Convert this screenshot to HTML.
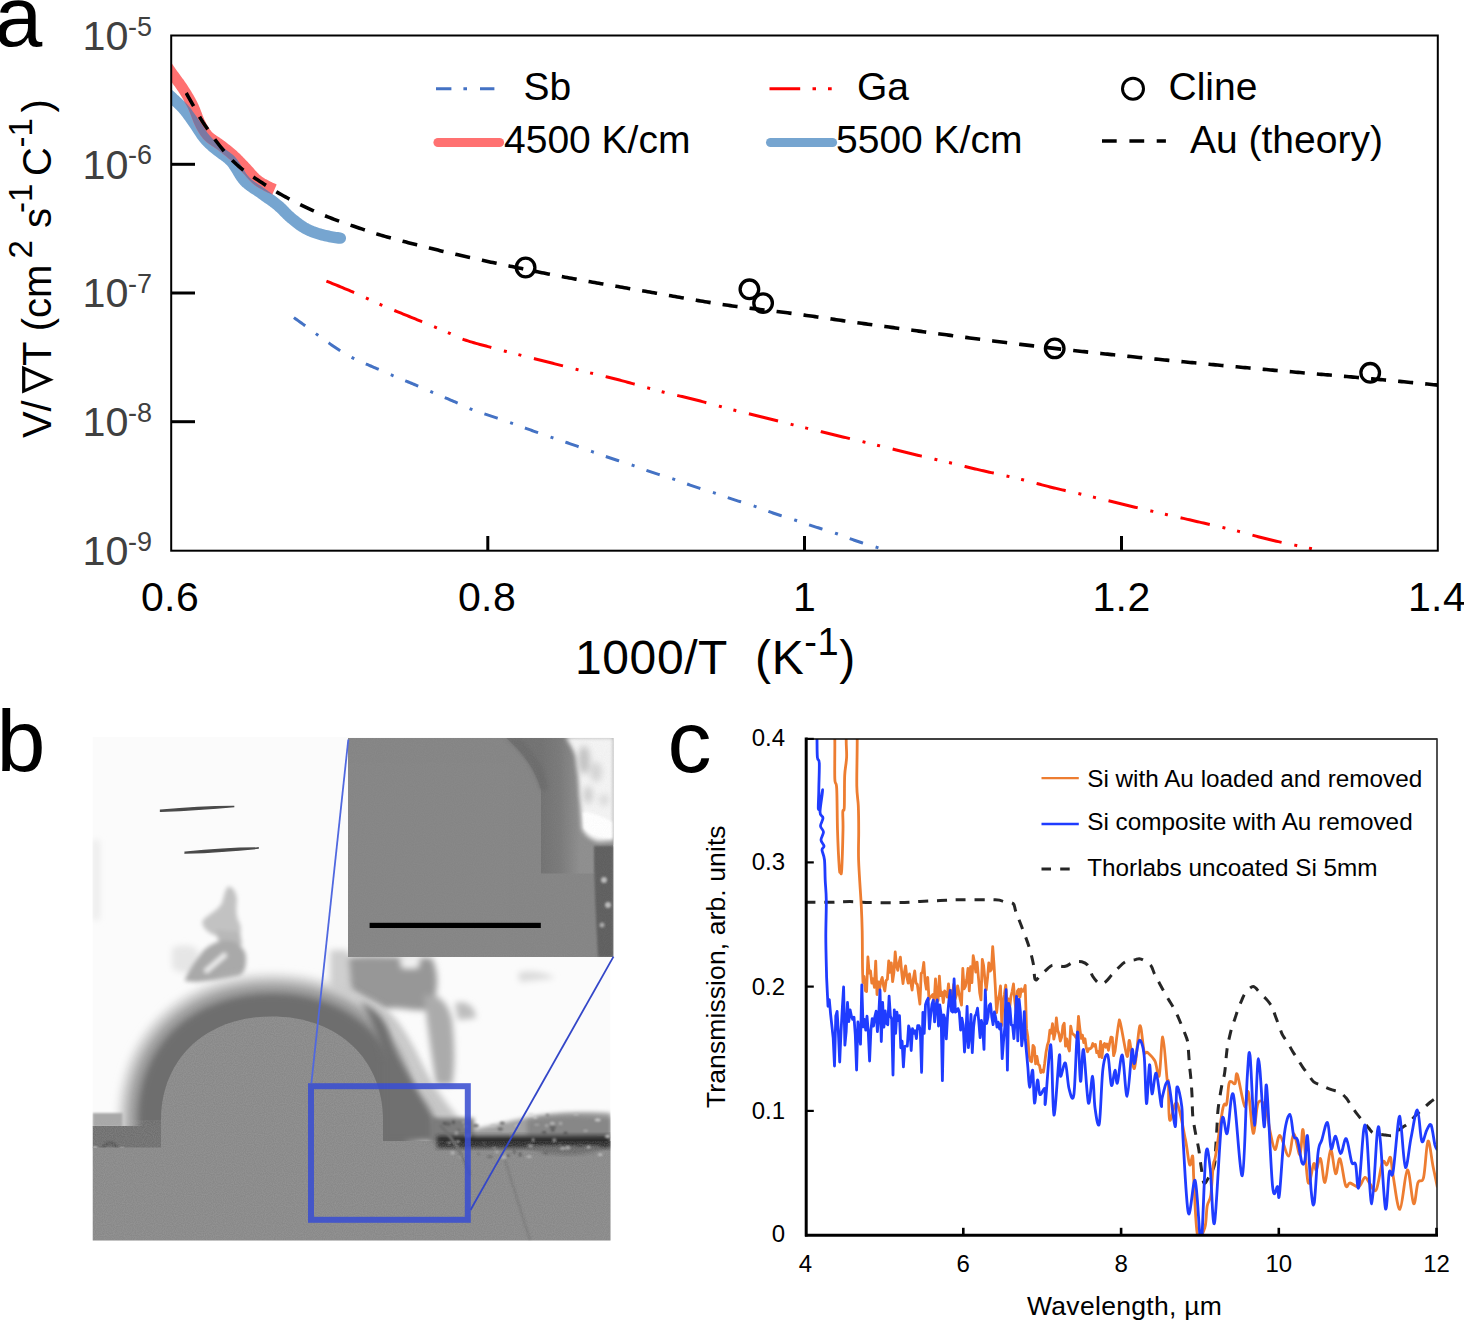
<!DOCTYPE html>
<html><head><meta charset="utf-8">
<style>
html,body{margin:0;padding:0;background:#fff;width:1464px;height:1321px;overflow:hidden}
svg{display:block}
text{font-family:"Liberation Sans",sans-serif}
</style></head>
<body>
<svg width="1464" height="1321" viewBox="0 0 1464 1321">
<defs>
  <mask id="redMask" maskUnits="userSpaceOnUse" x="0" y="0" width="1464" height="700"><rect x="0" y="0" width="1464" height="700" fill="#000"/><path d="M160.00,56.00 L160.85,57.24 L161.71,58.49 L162.56,59.73 L163.42,60.97 L164.28,62.21 L165.14,63.46 L166.00,64.70 L166.86,65.93 L167.72,67.17 L168.58,68.41 L169.45,69.65 L170.31,70.88 L171.18,72.12 L172.05,73.35 L172.93,74.58 L173.81,75.80 L174.70,77.02 L175.60,78.24 L176.50,79.45 L177.40,80.67 L178.29,81.89 L179.18,83.11 L180.05,84.34 L180.92,85.57 L181.77,86.82 L182.60,88.07 L183.41,89.34 L184.22,90.61 L185.02,91.89 L185.81,93.17 L186.60,94.47 L187.38,95.76 L188.15,97.07 L188.91,98.38 L189.65,99.70 L190.38,101.02 L191.10,102.35 L191.80,103.68 L192.48,105.03 L193.14,106.37 L193.77,107.74 L194.37,109.12 L194.94,110.52 L195.49,111.93 L196.03,113.35 L196.56,114.77 L197.09,116.19 L197.63,117.61 L198.18,119.02 L198.75,120.41 L199.35,121.79 L199.98,123.15 L200.65,124.49 L201.35,125.83 L202.07,127.18 L202.83,128.53 L203.61,129.86 L204.42,131.16 L205.27,132.42 L206.15,133.63 L207.07,134.78 L208.03,135.86 L209.07,136.87 L210.18,137.83 L211.35,138.75 L212.57,139.64 L213.83,140.50 L215.11,141.35 L216.41,142.20 L217.70,143.05 L218.98,143.91 L220.22,144.79 L221.43,145.70 L222.62,146.63 L223.81,147.56 L225.00,148.49 L226.19,149.43 L227.37,150.37 L228.54,151.33 L229.71,152.28 L230.87,153.25 L232.01,154.23 L233.14,155.23 L234.26,156.24 L235.36,157.26 L236.44,158.31 L237.51,159.37 L238.57,160.44 L239.63,161.52 L240.68,162.61 L241.72,163.70 L242.77,164.79 L243.82,165.88 L244.87,166.97 L245.91,168.06 L246.94,169.18 L247.96,170.32 L248.96,171.47 L249.97,172.62 L250.98,173.77 L251.99,174.91 L253.01,176.03 L254.06,177.12 L255.12,178.18 L256.21,179.20 L257.33,180.16 L258.49,181.07 L259.71,181.92 L260.98,182.73 L262.29,183.50 L263.62,184.24 L264.97,184.95 L266.30,185.66 L267.64,186.35 L268.99,187.02 L270.35,187.67 L271.72,188.30 L273.11,188.91 L274.50,189.50" fill="none" stroke="#fff" stroke-width="11" stroke-linejoin="round"/></mask>
  <clipPath id="clipTheory"><rect x="185" y="0" width="1300" height="700"/></clipPath>
  <clipPath id="clipA"><rect x="171" y="35.5" width="1267" height="515"/></clipPath>
  <clipPath id="clipC"><rect x="806" y="739" width="631" height="497"/></clipPath>
  <clipPath id="clipB"><rect x="92.5" y="737" width="518" height="503.5"/></clipPath>
  <clipPath id="clipInset"><rect x="348" y="738" width="265.5" height="219"/></clipPath>
  
  <filter id="bl1" x="-20%" y="-20%" width="140%" height="140%"><feGaussianBlur stdDeviation="1"/></filter>
  <filter id="bl2" x="-20%" y="-20%" width="140%" height="140%"><feGaussianBlur stdDeviation="2"/></filter>
  <filter id="bl3" x="-20%" y="-20%" width="140%" height="140%"><feGaussianBlur stdDeviation="3"/></filter>
  <filter id="bl4" x="-30%" y="-30%" width="160%" height="160%"><feGaussianBlur stdDeviation="4"/></filter>
  <filter id="bl7" x="-30%" y="-30%" width="160%" height="160%"><feGaussianBlur stdDeviation="7"/></filter>
  <filter id="bl10" x="-40%" y="-40%" width="180%" height="180%"><feGaussianBlur stdDeviation="10"/></filter>
  <filter id="grain" x="0" y="0" width="100%" height="100%">
    <feTurbulence type="fractalNoise" baseFrequency="0.9" numOctaves="1" seed="3" result="n"/>
    <feColorMatrix in="n" type="matrix" values="0 0 0 0 0.5  0 0 0 0 0.5  0 0 0 0 0.5  0 0 0 0.9 -0.25" result="g"/>
    <feComposite in="g" in2="SourceGraphic" operator="in"/>
  </filter>
  <clipPath id="clipGray"><path d="M161,1150 L161,1120 C161,1060 205,1016.5 272,1016.5 C339,1016.5 383,1060 383,1120 L383,1141 L611,1141 L611,1241 L92.5,1241 L92.5,1120 L161,1120 Z"/></clipPath>
  <linearGradient id="insetRing" x1="541" y1="0" x2="580" y2="0" gradientUnits="userSpaceOnUse">
    <stop offset="0" stop-color="#727272"/>
    <stop offset="0.5" stop-color="#7a7a7a"/>
    <stop offset="1" stop-color="#8e8e8e"/>
  </linearGradient>
  <linearGradient id="rightFoot" x1="383" y1="1120" x2="470" y2="1060" gradientUnits="userSpaceOnUse">
    <stop offset="0" stop-color="#767676"/>
    <stop offset="0.55" stop-color="#8a8a8a"/>
    <stop offset="1" stop-color="#f5f5f5"/>
  </linearGradient>

</defs>

<!-- ================= PANEL A ================= -->
<text x="-5.5" y="46.3" font-size="86">a</text>

<!-- curves -->
<g clip-path="url(#clipA)" fill="none">
  <path d="M160.00,87.00 L161.15,87.99 L162.30,88.98 L163.44,89.97 L164.58,90.97 L165.72,91.98 L166.85,92.99 L167.97,94.00 L169.10,95.02 L170.22,96.04 L171.33,97.07 L172.44,98.09 L173.56,99.12 L174.69,100.14 L175.81,101.17 L176.94,102.20 L178.05,103.24 L179.15,104.29 L180.23,105.35 L181.29,106.43 L182.32,107.52 L183.32,108.64 L184.30,109.78 L185.25,110.95 L186.18,112.13 L187.10,113.34 L188.00,114.56 L188.90,115.79 L189.78,117.03 L190.65,118.27 L191.52,119.52 L192.39,120.77 L193.26,122.02 L194.13,123.27 L195.00,124.51 L195.87,125.75 L196.72,127.01 L197.56,128.29 L198.38,129.57 L199.21,130.85 L200.04,132.13 L200.87,133.40 L201.72,134.65 L202.59,135.89 L203.49,137.10 L204.41,138.29 L205.37,139.44 L206.38,140.56 L207.42,141.66 L208.50,142.74 L209.59,143.80 L210.71,144.83 L211.83,145.85 L212.97,146.84 L214.13,147.81 L215.32,148.75 L216.52,149.69 L217.72,150.61 L218.92,151.54 L220.11,152.48 L221.34,153.39 L222.58,154.29 L223.83,155.19 L225.08,156.08 L226.31,156.99 L227.51,157.92 L228.66,158.88 L229.76,159.87 L230.80,160.92 L231.78,162.02 L232.71,163.19 L233.61,164.40 L234.47,165.66 L235.31,166.94 L236.13,168.26 L236.93,169.58 L237.73,170.92 L238.53,172.26 L239.33,173.58 L240.15,174.90 L240.98,176.18 L241.84,177.43 L242.73,178.65 L243.66,179.81 L244.63,180.91 L245.66,181.95 L246.73,182.95 L247.86,183.91 L249.03,184.84 L250.24,185.75 L251.47,186.63 L252.73,187.50 L254.01,188.36 L255.29,189.21 L256.58,190.06 L257.87,190.91 L259.14,191.77 L260.40,192.64 L261.64,193.53 L262.86,194.42 L264.10,195.30 L265.34,196.17 L266.59,197.05 L267.83,197.92 L269.08,198.79 L270.32,199.67 L271.55,200.55 L272.78,201.44 L273.99,202.34 L275.20,203.26 L276.39,204.19 L277.56,205.13 L278.71,206.11 L279.83,207.12 L280.94,208.16 L282.02,209.22 L283.09,210.30 L284.16,211.39 L285.23,212.47 L286.30,213.56 L287.37,214.63 L288.47,215.68 L289.58,216.70 L290.72,217.69 L291.88,218.64 L293.06,219.60 L294.24,220.56 L295.44,221.52 L296.65,222.48 L297.87,223.41 L299.10,224.33 L300.35,225.23 L301.60,226.09 L302.88,226.92 L304.16,227.71 L305.46,228.45 L306.78,229.15 L308.11,229.79 L309.46,230.40 L310.85,231.00 L312.25,231.58 L313.67,232.13 L315.10,232.66 L316.55,233.17 L318.01,233.65 L319.47,234.10 L320.94,234.52 L322.41,234.91 L323.87,235.27 L325.34,235.61 L326.81,235.93 L328.28,236.24 L329.76,236.54 L331.25,236.83 L332.75,237.09 L334.25,237.34 L335.75,237.57 L337.26,237.77 L338.78,237.95 L340.30,238.10" stroke="#76a5d0" stroke-width="11.5" stroke-linejoin="round" stroke-linecap="round"/>
  <path d="M160.00,56.00 L160.85,57.24 L161.71,58.49 L162.56,59.73 L163.42,60.97 L164.28,62.21 L165.14,63.46 L166.00,64.70 L166.86,65.93 L167.72,67.17 L168.58,68.41 L169.45,69.65 L170.31,70.88 L171.18,72.12 L172.05,73.35 L172.93,74.58 L173.81,75.80 L174.70,77.02 L175.60,78.24 L176.50,79.45 L177.40,80.67 L178.29,81.89 L179.18,83.11 L180.05,84.34 L180.92,85.57 L181.77,86.82 L182.60,88.07 L183.41,89.34 L184.22,90.61 L185.02,91.89 L185.81,93.17 L186.60,94.47 L187.38,95.76 L188.15,97.07 L188.91,98.38 L189.65,99.70 L190.38,101.02 L191.10,102.35 L191.80,103.68 L192.48,105.03 L193.14,106.37 L193.77,107.74 L194.37,109.12 L194.94,110.52 L195.49,111.93 L196.03,113.35 L196.56,114.77 L197.09,116.19 L197.63,117.61 L198.18,119.02 L198.75,120.41 L199.35,121.79 L199.98,123.15 L200.65,124.49 L201.35,125.83 L202.07,127.18 L202.83,128.53 L203.61,129.86 L204.42,131.16 L205.27,132.42 L206.15,133.63 L207.07,134.78 L208.03,135.86 L209.07,136.87 L210.18,137.83 L211.35,138.75 L212.57,139.64 L213.83,140.50 L215.11,141.35 L216.41,142.20 L217.70,143.05 L218.98,143.91 L220.22,144.79 L221.43,145.70 L222.62,146.63 L223.81,147.56 L225.00,148.49 L226.19,149.43 L227.37,150.37 L228.54,151.33 L229.71,152.28 L230.87,153.25 L232.01,154.23 L233.14,155.23 L234.26,156.24 L235.36,157.26 L236.44,158.31 L237.51,159.37 L238.57,160.44 L239.63,161.52 L240.68,162.61 L241.72,163.70 L242.77,164.79 L243.82,165.88 L244.87,166.97 L245.91,168.06 L246.94,169.18 L247.96,170.32 L248.96,171.47 L249.97,172.62 L250.98,173.77 L251.99,174.91 L253.01,176.03 L254.06,177.12 L255.12,178.18 L256.21,179.20 L257.33,180.16 L258.49,181.07 L259.71,181.92 L260.98,182.73 L262.29,183.50 L263.62,184.24 L264.97,184.95 L266.30,185.66 L267.64,186.35 L268.99,187.02 L270.35,187.67 L271.72,188.30 L273.11,188.91 L274.50,189.50" stroke="#ff7171" stroke-width="11" stroke-linejoin="round"/>
  <path d="M160.00,87.00 L161.15,87.99 L162.30,88.98 L163.44,89.97 L164.58,90.97 L165.72,91.98 L166.85,92.99 L167.97,94.00 L169.10,95.02 L170.22,96.04 L171.33,97.07 L172.44,98.09 L173.56,99.12 L174.69,100.14 L175.81,101.17 L176.94,102.20 L178.05,103.24 L179.15,104.29 L180.23,105.35 L181.29,106.43 L182.32,107.52 L183.32,108.64 L184.30,109.78 L185.25,110.95 L186.18,112.13 L187.10,113.34 L188.00,114.56 L188.90,115.79 L189.78,117.03 L190.65,118.27 L191.52,119.52 L192.39,120.77 L193.26,122.02 L194.13,123.27 L195.00,124.51 L195.87,125.75 L196.72,127.01 L197.56,128.29 L198.38,129.57 L199.21,130.85 L200.04,132.13 L200.87,133.40 L201.72,134.65 L202.59,135.89 L203.49,137.10 L204.41,138.29 L205.37,139.44 L206.38,140.56 L207.42,141.66 L208.50,142.74 L209.59,143.80 L210.71,144.83 L211.83,145.85 L212.97,146.84 L214.13,147.81 L215.32,148.75 L216.52,149.69 L217.72,150.61 L218.92,151.54 L220.11,152.48 L221.34,153.39 L222.58,154.29 L223.83,155.19 L225.08,156.08 L226.31,156.99 L227.51,157.92 L228.66,158.88 L229.76,159.87 L230.80,160.92 L231.78,162.02 L232.71,163.19 L233.61,164.40 L234.47,165.66 L235.31,166.94 L236.13,168.26 L236.93,169.58 L237.73,170.92 L238.53,172.26 L239.33,173.58 L240.15,174.90 L240.98,176.18 L241.84,177.43 L242.73,178.65 L243.66,179.81 L244.63,180.91 L245.66,181.95 L246.73,182.95 L247.86,183.91 L249.03,184.84 L250.24,185.75 L251.47,186.63 L252.73,187.50 L254.01,188.36 L255.29,189.21 L256.58,190.06 L257.87,190.91 L259.14,191.77 L260.40,192.64 L261.64,193.53 L262.86,194.42 L264.10,195.30 L265.34,196.17 L266.59,197.05 L267.83,197.92 L269.08,198.79 L270.32,199.67 L271.55,200.55 L272.78,201.44 L273.99,202.34 L275.20,203.26 L276.39,204.19 L277.56,205.13 L278.71,206.11 L279.83,207.12 L280.94,208.16 L282.02,209.22 L283.09,210.30 L284.16,211.39 L285.23,212.47 L286.30,213.56 L287.37,214.63 L288.47,215.68 L289.58,216.70 L290.72,217.69 L291.88,218.64 L293.06,219.60 L294.24,220.56 L295.44,221.52 L296.65,222.48 L297.87,223.41 L299.10,224.33 L300.35,225.23 L301.60,226.09 L302.88,226.92 L304.16,227.71 L305.46,228.45 L306.78,229.15 L308.11,229.79 L309.46,230.40 L310.85,231.00 L312.25,231.58 L313.67,232.13 L315.10,232.66 L316.55,233.17 L318.01,233.65 L319.47,234.10 L320.94,234.52 L322.41,234.91 L323.87,235.27 L325.34,235.61 L326.81,235.93 L328.28,236.24 L329.76,236.54 L331.25,236.83 L332.75,237.09 L334.25,237.34 L335.75,237.57 L337.26,237.77 L338.78,237.95 L340.30,238.10" stroke="#7b78a2" stroke-width="11.5" stroke-linejoin="round" stroke-linecap="round" mask="url(#redMask)"/>
  <path d="M171.00,66.00 L173.12,69.79 L175.24,73.57 L177.36,77.34 L179.47,81.10 L181.59,84.86 L183.71,88.60 L185.83,92.34 L187.95,96.07 L190.07,99.79 L192.19,103.58 L194.30,107.44 L196.42,111.29 L198.54,115.06 L200.66,118.68 L202.78,122.06 L204.90,125.21 L207.02,128.31 L209.13,131.37 L211.25,134.37 L213.37,137.31 L215.49,140.20 L217.61,143.01 L219.73,145.76 L221.84,148.42 L223.96,151.01 L226.08,153.51 L228.20,155.91 L230.32,158.22 L232.44,160.42 L234.56,162.52 L236.67,164.51 L238.79,166.38 L240.91,168.15 L243.03,169.82 L245.15,171.43 L247.27,172.96 L249.39,174.44 L251.50,175.88 L253.62,177.29 L255.74,178.68 L257.86,180.07 L259.98,181.46 L262.10,182.86 L264.22,184.24 L266.33,185.60 L268.45,186.94 L270.57,188.26 L272.69,189.56 L274.81,190.84 L276.93,192.09 L279.05,193.32 L281.16,194.53 L283.28,195.71 L285.40,196.88 L287.52,198.03 L289.64,199.16 L291.76,200.27 L293.87,201.37 L295.99,202.45 L298.11,203.51 L300.23,204.56 L302.35,205.59 L304.47,206.61 L306.59,207.61 L308.70,208.59 L310.82,209.56 L312.94,210.52 L315.06,211.46 L317.18,212.39 L319.30,213.31 L321.42,214.21 L323.53,215.10 L325.65,215.97 L327.77,216.83 L329.89,217.68 L332.01,218.50 L334.13,219.31 L336.25,220.11 L338.36,220.89 L340.48,221.65 L342.60,222.40 L344.72,223.15 L346.84,223.88 L348.96,224.61 L351.08,225.33 L353.19,226.04 L355.31,226.76 L357.43,227.48 L359.55,228.20 L361.67,228.92 L363.79,229.64 L365.90,230.36 L368.02,231.07 L370.14,231.78 L372.26,232.48 L374.38,233.17 L376.50,233.85 L378.62,234.50 L380.73,235.14 L382.85,235.76 L384.97,236.36 L387.09,236.95 L389.21,237.54 L391.33,238.12 L393.45,238.70 L395.56,239.28 L397.68,239.85 L399.80,240.42 L401.92,240.99 L404.04,241.55 L406.16,242.11 L408.28,242.67 L410.39,243.22 L412.51,243.77 L414.63,244.32 L416.75,244.86 L418.87,245.40 L420.99,245.94 L423.11,246.47 L425.22,247.00 L427.34,247.53 L429.46,248.05 L431.58,248.57 L433.70,249.09 L435.82,249.61 L437.93,250.12 L440.05,250.63 L442.17,251.14 L444.29,251.64 L446.41,252.14 L448.53,252.64 L450.65,253.14 L452.76,253.63 L454.88,254.12 L457.00,254.61 L459.12,255.10 L461.24,255.58 L463.36,256.06 L465.48,256.54 L467.59,257.02 L469.71,257.50 L471.83,257.97 L473.95,258.44 L476.07,258.91 L478.19,259.38 L480.31,259.84 L482.42,260.30 L484.54,260.76 L486.66,261.22 L488.78,261.68 L490.90,262.14 L493.02,262.59 L495.14,263.04 L497.25,263.49 L499.37,263.94 L501.49,264.39 L503.61,264.84 L505.73,265.28 L507.85,265.72 L509.96,266.16 L512.08,266.60 L514.20,267.04 L516.32,267.48 L518.44,267.92 L520.56,268.35 L522.68,268.79 L524.79,269.22 L526.91,269.65 L529.03,270.08 L531.15,270.51 L533.27,270.94 L535.39,271.37 L537.51,271.80 L539.62,272.22 L541.74,272.65 L543.86,273.07 L545.98,273.49 L548.10,273.91 L550.22,274.33 L552.34,274.74 L554.45,275.15 L556.57,275.56 L558.69,275.97 L560.81,276.37 L562.93,276.77 L565.05,277.17 L567.17,277.57 L569.28,277.96 L571.40,278.35 L573.52,278.74 L575.64,279.13 L577.76,279.52 L579.88,279.90 L581.99,280.28 L584.11,280.66 L586.23,281.04 L588.35,281.42 L590.47,281.80 L592.59,282.17 L594.71,282.54 L596.82,282.92 L598.94,283.29 L601.06,283.66 L603.18,284.03 L605.30,284.40 L607.42,284.76 L609.54,285.13 L611.65,285.50 L613.77,285.86 L615.89,286.23 L618.01,286.59 L620.13,286.96 L622.25,287.32 L624.37,287.68 L626.48,288.05 L628.60,288.41 L630.72,288.78 L632.84,289.14 L634.96,289.50 L637.08,289.87 L639.20,290.23 L641.31,290.60 L643.43,290.96 L645.55,291.33 L647.67,291.70 L649.79,292.06 L651.91,292.43 L654.03,292.80 L656.14,293.17 L658.26,293.55 L660.38,293.92 L662.50,294.30 L664.62,294.67 L666.74,295.05 L668.85,295.42 L670.97,295.80 L673.09,296.18 L675.21,296.55 L677.33,296.93 L679.45,297.31 L681.57,297.68 L683.68,298.05 L685.80,298.43 L687.92,298.80 L690.04,299.17 L692.16,299.54 L694.28,299.90 L696.40,300.26 L698.51,300.63 L700.63,300.99 L702.75,301.34 L704.87,301.69 L706.99,302.05 L709.11,302.39 L711.23,302.74 L713.34,303.08 L715.46,303.41 L717.58,303.74 L719.70,304.07 L721.82,304.40 L723.94,304.71 L726.06,305.03 L728.17,305.34 L730.29,305.64 L732.41,305.94 L734.53,306.23 L736.65,306.52 L738.77,306.80 L740.88,307.07 L743.00,307.35 L745.12,307.61 L747.24,307.88 L749.36,308.14 L751.48,308.40 L753.60,308.65 L755.71,308.91 L757.83,309.16 L759.95,309.42 L762.07,309.67 L764.19,309.92 L766.31,310.17 L768.43,310.43 L770.54,310.68 L772.66,310.94 L774.78,311.20 L776.90,311.46 L779.02,311.73 L781.14,312.00 L783.26,312.27 L785.37,312.55 L787.49,312.83 L789.61,313.11 L791.73,313.40 L793.85,313.69 L795.97,313.98 L798.09,314.27 L800.20,314.56 L802.32,314.85 L804.44,315.15 L806.56,315.45 L808.68,315.74 L810.80,316.04 L812.91,316.34 L815.03,316.65 L817.15,316.95 L819.27,317.25 L821.39,317.55 L823.51,317.86 L825.63,318.16 L827.74,318.47 L829.86,318.77 L831.98,319.08 L834.10,319.38 L836.22,319.69 L838.34,319.99 L840.46,320.30 L842.57,320.60 L844.69,320.91 L846.81,321.21 L848.93,321.51 L851.05,321.81 L853.17,322.11 L855.29,322.41 L857.40,322.71 L859.52,323.01 L861.64,323.30 L863.76,323.60 L865.88,323.89 L868.00,324.18 L870.12,324.47 L872.23,324.76 L874.35,325.05 L876.47,325.33 L878.59,325.62 L880.71,325.91 L882.83,326.20 L884.94,326.48 L887.06,326.77 L889.18,327.06 L891.30,327.35 L893.42,327.64 L895.54,327.93 L897.66,328.21 L899.77,328.50 L901.89,328.79 L904.01,329.08 L906.13,329.37 L908.25,329.66 L910.37,329.94 L912.49,330.23 L914.60,330.52 L916.72,330.81 L918.84,331.10 L920.96,331.38 L923.08,331.67 L925.20,331.96 L927.32,332.25 L929.43,332.53 L931.55,332.82 L933.67,333.10 L935.79,333.39 L937.91,333.68 L940.03,333.96 L942.15,334.25 L944.26,334.53 L946.38,334.81 L948.50,335.10 L950.62,335.38 L952.74,335.66 L954.86,335.95 L956.97,336.23 L959.09,336.51 L961.21,336.79 L963.33,337.07 L965.45,337.35 L967.57,337.63 L969.69,337.91 L971.80,338.19 L973.92,338.46 L976.04,338.74 L978.16,339.02 L980.28,339.29 L982.40,339.57 L984.52,339.84 L986.63,340.11 L988.75,340.39 L990.87,340.66 L992.99,340.93 L995.11,341.20 L997.23,341.47 L999.35,341.74 L1001.46,342.00 L1003.58,342.27 L1005.70,342.54 L1007.82,342.80 L1009.94,343.07 L1012.06,343.33 L1014.18,343.59 L1016.29,343.85 L1018.41,344.11 L1020.53,344.37 L1022.65,344.63 L1024.77,344.89 L1026.89,345.14 L1029.01,345.40 L1031.12,345.65 L1033.24,345.91 L1035.36,346.16 L1037.48,346.41 L1039.60,346.66 L1041.72,346.91 L1043.83,347.15 L1045.95,347.40 L1048.07,347.64 L1050.19,347.89 L1052.31,348.13 L1054.43,348.37 L1056.55,348.61 L1058.66,348.85 L1060.78,349.09 L1062.90,349.32 L1065.02,349.56 L1067.14,349.80 L1069.26,350.03 L1071.38,350.26 L1073.49,350.50 L1075.61,350.73 L1077.73,350.96 L1079.85,351.19 L1081.97,351.43 L1084.09,351.66 L1086.21,351.89 L1088.32,352.11 L1090.44,352.34 L1092.56,352.57 L1094.68,352.80 L1096.80,353.02 L1098.92,353.25 L1101.04,353.47 L1103.15,353.70 L1105.27,353.92 L1107.39,354.14 L1109.51,354.37 L1111.63,354.59 L1113.75,354.81 L1115.86,355.03 L1117.98,355.25 L1120.10,355.47 L1122.22,355.69 L1124.34,355.91 L1126.46,356.12 L1128.58,356.34 L1130.69,356.56 L1132.81,356.77 L1134.93,356.99 L1137.05,357.20 L1139.17,357.42 L1141.29,357.63 L1143.41,357.85 L1145.52,358.06 L1147.64,358.27 L1149.76,358.48 L1151.88,358.70 L1154.00,358.91 L1156.12,359.12 L1158.24,359.33 L1160.35,359.54 L1162.47,359.75 L1164.59,359.95 L1166.71,360.16 L1168.83,360.37 L1170.95,360.58 L1173.07,360.78 L1175.18,360.99 L1177.30,361.20 L1179.42,361.40 L1181.54,361.61 L1183.66,361.81 L1185.78,362.02 L1187.89,362.22 L1190.01,362.43 L1192.13,362.63 L1194.25,362.83 L1196.37,363.04 L1198.49,363.24 L1200.61,363.44 L1202.72,363.64 L1204.84,363.84 L1206.96,364.04 L1209.08,364.24 L1211.20,364.44 L1213.32,364.64 L1215.44,364.84 L1217.55,365.04 L1219.67,365.24 L1221.79,365.44 L1223.91,365.64 L1226.03,365.84 L1228.15,366.04 L1230.27,366.24 L1232.38,366.43 L1234.50,366.63 L1236.62,366.83 L1238.74,367.02 L1240.86,367.22 L1242.98,367.42 L1245.10,367.61 L1247.21,367.81 L1249.33,368.01 L1251.45,368.20 L1253.57,368.40 L1255.69,368.59 L1257.81,368.79 L1259.92,368.98 L1262.04,369.18 L1264.16,369.37 L1266.28,369.57 L1268.40,369.76 L1270.52,369.96 L1272.64,370.15 L1274.75,370.34 L1276.87,370.53 L1278.99,370.72 L1281.11,370.91 L1283.23,371.10 L1285.35,371.28 L1287.47,371.47 L1289.58,371.65 L1291.70,371.83 L1293.82,372.02 L1295.94,372.20 L1298.06,372.38 L1300.18,372.56 L1302.30,372.74 L1304.41,372.92 L1306.53,373.10 L1308.65,373.28 L1310.77,373.45 L1312.89,373.63 L1315.01,373.81 L1317.13,373.99 L1319.24,374.17 L1321.36,374.35 L1323.48,374.52 L1325.60,374.70 L1327.72,374.88 L1329.84,375.06 L1331.95,375.24 L1334.07,375.43 L1336.19,375.61 L1338.31,375.79 L1340.43,375.98 L1342.55,376.16 L1344.67,376.35 L1346.78,376.53 L1348.90,376.72 L1351.02,376.91 L1353.14,377.10 L1355.26,377.29 L1357.38,377.49 L1359.50,377.68 L1361.61,377.87 L1363.73,378.06 L1365.85,378.26 L1367.97,378.45 L1370.09,378.65 L1372.21,378.84 L1374.33,379.04 L1376.44,379.23 L1378.56,379.43 L1380.68,379.62 L1382.80,379.82 L1384.92,380.02 L1387.04,380.22 L1389.16,380.42 L1391.27,380.61 L1393.39,380.81 L1395.51,381.01 L1397.63,381.21 L1399.75,381.41 L1401.87,381.61 L1403.98,381.82 L1406.10,382.02 L1408.22,382.22 L1410.34,382.42 L1412.46,382.62 L1414.58,382.83 L1416.70,383.03 L1418.81,383.24 L1420.93,383.44 L1423.05,383.65 L1425.17,383.85 L1427.29,384.06 L1429.41,384.26 L1431.53,384.47 L1433.64,384.68 L1435.76,384.88 L1437.88,385.09 L1440.00,385.30" stroke="#000" stroke-width="3.6" stroke-dasharray="15.1 12.1" stroke-dashoffset="-31" clip-path="url(#clipTheory)"/>
  <path d="M326.40,281.10 L328.42,281.90 L330.44,282.71 L332.46,283.52 L334.48,284.34 L336.51,285.17 L338.53,286.00 L340.55,286.83 L342.57,287.68 L344.59,288.52 L346.61,289.38 L348.63,290.24 L350.65,291.10 L352.68,291.97 L354.70,292.85 L356.72,293.74 L358.74,294.64 L360.76,295.56 L362.78,296.49 L364.80,297.42 L366.82,298.36 L368.85,299.30 L370.87,300.23 L372.89,301.16 L374.91,302.09 L376.93,303.00 L378.95,303.90 L380.97,304.79 L382.99,305.66 L385.02,306.53 L387.04,307.38 L389.06,308.23 L391.08,309.08 L393.10,309.91 L395.12,310.75 L397.14,311.58 L399.16,312.40 L401.19,313.23 L403.21,314.05 L405.23,314.87 L407.25,315.69 L409.27,316.51 L411.29,317.33 L413.31,318.15 L415.33,318.98 L417.36,319.81 L419.38,320.64 L421.40,321.47 L423.42,322.31 L425.44,323.15 L427.46,323.98 L429.48,324.81 L431.50,325.64 L433.53,326.47 L435.55,327.31 L437.57,328.14 L439.59,328.98 L441.61,329.83 L443.63,330.68 L445.65,331.54 L447.67,332.41 L449.70,333.29 L451.72,334.20 L453.74,335.16 L455.76,336.13 L457.78,337.09 L459.80,338.00 L461.82,338.83 L463.84,339.57 L465.87,340.27 L467.89,340.94 L469.91,341.57 L471.93,342.19 L473.95,342.78 L475.97,343.35 L477.99,343.91 L480.01,344.46 L482.04,345.00 L484.06,345.54 L486.08,346.07 L488.10,346.62 L490.12,347.17 L492.14,347.72 L494.16,348.28 L496.18,348.82 L498.21,349.36 L500.23,349.90 L502.25,350.43 L504.27,350.96 L506.29,351.49 L508.31,352.01 L510.33,352.54 L512.35,353.06 L514.38,353.58 L516.40,354.10 L518.42,354.62 L520.44,355.14 L522.46,355.66 L524.48,356.18 L526.50,356.69 L528.52,357.21 L530.55,357.72 L532.57,358.23 L534.59,358.74 L536.61,359.25 L538.63,359.76 L540.65,360.27 L542.67,360.78 L544.69,361.29 L546.72,361.79 L548.74,362.30 L550.76,362.81 L552.78,363.32 L554.80,363.83 L556.82,364.34 L558.84,364.85 L560.86,365.36 L562.89,365.87 L564.91,366.39 L566.93,366.91 L568.95,367.42 L570.97,367.94 L572.99,368.46 L575.01,368.98 L577.03,369.50 L579.06,370.02 L581.08,370.53 L583.10,371.05 L585.12,371.56 L587.14,372.08 L589.16,372.59 L591.18,373.10 L593.20,373.60 L595.23,374.10 L597.25,374.59 L599.27,375.09 L601.29,375.58 L603.31,376.07 L605.33,376.56 L607.35,377.05 L609.37,377.54 L611.40,378.03 L613.42,378.53 L615.44,379.04 L617.46,379.55 L619.48,380.07 L621.50,380.59 L623.52,381.13 L625.54,381.67 L627.57,382.22 L629.59,382.78 L631.61,383.34 L633.63,383.91 L635.65,384.48 L637.67,385.05 L639.69,385.63 L641.71,386.20 L643.74,386.78 L645.76,387.35 L647.78,387.92 L649.80,388.49 L651.82,389.05 L653.84,389.60 L655.86,390.15 L657.88,390.70 L659.91,391.23 L661.93,391.75 L663.95,392.26 L665.97,392.77 L667.99,393.26 L670.01,393.74 L672.03,394.21 L674.05,394.69 L676.07,395.15 L678.10,395.62 L680.12,396.09 L682.14,396.56 L684.16,397.03 L686.18,397.51 L688.20,397.99 L690.22,398.48 L692.24,398.99 L694.27,399.50 L696.29,400.02 L698.31,400.54 L700.33,401.07 L702.35,401.61 L704.37,402.15 L706.39,402.69 L708.41,403.24 L710.44,403.79 L712.46,404.34 L714.48,404.89 L716.50,405.44 L718.52,405.99 L720.54,406.53 L722.56,407.08 L724.58,407.62 L726.61,408.16 L728.63,408.70 L730.65,409.23 L732.67,409.76 L734.69,410.27 L736.71,410.79 L738.73,411.30 L740.75,411.80 L742.78,412.31 L744.80,412.81 L746.82,413.30 L748.84,413.80 L750.86,414.29 L752.88,414.79 L754.90,415.28 L756.92,415.78 L758.95,416.28 L760.97,416.77 L762.99,417.27 L765.01,417.78 L767.03,418.28 L769.05,418.78 L771.07,419.29 L773.09,419.79 L775.12,420.30 L777.14,420.80 L779.16,421.31 L781.18,421.82 L783.20,422.32 L785.22,422.83 L787.24,423.34 L789.26,423.84 L791.29,424.35 L793.31,424.85 L795.33,425.36 L797.35,425.86 L799.37,426.36 L801.39,426.86 L803.41,427.36 L805.43,427.86 L807.46,428.36 L809.48,428.86 L811.50,429.35 L813.52,429.84 L815.54,430.34 L817.56,430.83 L819.58,431.32 L821.60,431.81 L823.63,432.30 L825.65,432.79 L827.67,433.28 L829.69,433.76 L831.71,434.25 L833.73,434.74 L835.75,435.23 L837.77,435.72 L839.80,436.21 L841.82,436.69 L843.84,437.18 L845.86,437.66 L847.88,438.14 L849.90,438.63 L851.92,439.11 L853.94,439.59 L855.97,440.08 L857.99,440.56 L860.01,441.05 L862.03,441.53 L864.05,442.02 L866.07,442.50 L868.09,442.99 L870.11,443.48 L872.14,443.97 L874.16,444.46 L876.18,444.96 L878.20,445.45 L880.22,445.95 L882.24,446.45 L884.26,446.96 L886.28,447.46 L888.31,447.97 L890.33,448.48 L892.35,449.00 L894.37,449.51 L896.39,450.01 L898.41,450.52 L900.43,451.03 L902.45,451.53 L904.48,452.03 L906.50,452.52 L908.52,453.01 L910.54,453.50 L912.56,453.98 L914.58,454.46 L916.60,454.94 L918.62,455.42 L920.65,455.90 L922.67,456.37 L924.69,456.84 L926.71,457.32 L928.73,457.79 L930.75,458.26 L932.77,458.73 L934.79,459.21 L936.82,459.68 L938.84,460.15 L940.86,460.63 L942.88,461.10 L944.90,461.58 L946.92,462.06 L948.94,462.54 L950.96,463.03 L952.99,463.51 L955.01,464.01 L957.03,464.50 L959.05,464.99 L961.07,465.49 L963.09,465.98 L965.11,466.47 L967.13,466.97 L969.16,467.46 L971.18,467.95 L973.20,468.44 L975.22,468.92 L977.24,469.40 L979.26,469.87 L981.28,470.34 L983.30,470.80 L985.33,471.26 L987.35,471.72 L989.37,472.17 L991.39,472.62 L993.41,473.07 L995.43,473.51 L997.45,473.96 L999.47,474.40 L1001.49,474.85 L1003.52,475.30 L1005.54,475.75 L1007.56,476.20 L1009.58,476.66 L1011.60,477.12 L1013.62,477.58 L1015.64,478.05 L1017.66,478.53 L1019.69,479.01 L1021.71,479.50 L1023.73,480.00 L1025.75,480.52 L1027.77,481.04 L1029.79,481.57 L1031.81,482.11 L1033.83,482.65 L1035.86,483.20 L1037.88,483.74 L1039.90,484.29 L1041.92,484.83 L1043.94,485.37 L1045.96,485.90 L1047.98,486.42 L1050.00,486.93 L1052.03,487.43 L1054.05,487.92 L1056.07,488.41 L1058.09,488.89 L1060.11,489.37 L1062.13,489.84 L1064.15,490.31 L1066.17,490.78 L1068.20,491.25 L1070.22,491.71 L1072.24,492.18 L1074.26,492.64 L1076.28,493.10 L1078.30,493.56 L1080.32,494.03 L1082.34,494.49 L1084.37,494.96 L1086.39,495.43 L1088.41,495.90 L1090.43,496.37 L1092.45,496.85 L1094.47,497.34 L1096.49,497.83 L1098.51,498.32 L1100.54,498.81 L1102.56,499.31 L1104.58,499.81 L1106.60,500.31 L1108.62,500.82 L1110.64,501.32 L1112.66,501.82 L1114.68,502.32 L1116.71,502.82 L1118.73,503.31 L1120.75,503.80 L1122.77,504.29 L1124.79,504.77 L1126.81,505.25 L1128.83,505.73 L1130.85,506.21 L1132.88,506.69 L1134.90,507.17 L1136.92,507.64 L1138.94,508.11 L1140.96,508.59 L1142.98,509.06 L1145.00,509.53 L1147.02,510.00 L1149.05,510.47 L1151.07,510.94 L1153.09,511.41 L1155.11,511.88 L1157.13,512.34 L1159.15,512.81 L1161.17,513.28 L1163.19,513.75 L1165.22,514.22 L1167.24,514.69 L1169.26,515.16 L1171.28,515.62 L1173.30,516.09 L1175.32,516.55 L1177.34,517.02 L1179.36,517.48 L1181.39,517.95 L1183.41,518.41 L1185.43,518.88 L1187.45,519.34 L1189.47,519.81 L1191.49,520.28 L1193.51,520.75 L1195.53,521.22 L1197.56,521.68 L1199.58,522.15 L1201.60,522.61 L1203.62,523.08 L1205.64,523.54 L1207.66,524.00 L1209.68,524.46 L1211.70,524.92 L1213.73,525.39 L1215.75,525.85 L1217.77,526.32 L1219.79,526.79 L1221.81,527.26 L1223.83,527.73 L1225.85,528.21 L1227.87,528.69 L1229.90,529.18 L1231.92,529.67 L1233.94,530.16 L1235.96,530.66 L1237.98,531.17 L1240.00,531.69 L1242.02,532.22 L1244.04,532.77 L1246.07,533.33 L1248.09,533.89 L1250.11,534.46 L1252.13,535.03 L1254.15,535.60 L1256.17,536.16 L1258.19,536.72 L1260.21,537.27 L1262.24,537.80 L1264.26,538.32 L1266.28,538.82 L1268.30,539.30 L1270.32,539.78 L1272.34,540.26 L1274.36,540.72 L1276.38,541.18 L1278.41,541.64 L1280.43,542.09 L1282.45,542.53 L1284.47,542.97 L1286.49,543.41 L1288.51,543.84 L1290.53,544.27 L1292.55,544.70 L1294.58,545.13 L1296.60,545.55 L1298.62,545.97 L1300.64,546.40 L1302.66,546.82 L1304.68,547.24 L1306.70,547.67 L1308.72,548.09 L1310.75,548.52 L1312.77,548.95 L1314.79,549.37 L1316.81,549.79 L1318.83,550.21 L1320.85,550.63 L1322.87,551.04 L1324.89,551.45 L1326.92,551.87 L1328.94,552.28 L1330.96,552.69 L1332.98,553.09 L1335.00,553.50" stroke="#ff0000" stroke-width="3" stroke-dasharray="30 13 3 12 3 13"/>
  <path d="M293.90,317.60 L295.41,318.68 L296.91,319.76 L298.42,320.85 L299.93,321.94 L301.43,323.03 L302.94,324.13 L304.45,325.22 L305.95,326.32 L307.46,327.43 L308.97,328.55 L310.47,329.67 L311.98,330.79 L313.48,331.90 L314.99,333.01 L316.50,334.10 L318.00,335.18 L319.51,336.28 L321.02,337.37 L322.52,338.46 L324.03,339.55 L325.54,340.64 L327.04,341.72 L328.55,342.80 L330.06,343.87 L331.56,344.92 L333.07,345.96 L334.58,346.99 L336.08,348.01 L337.59,349.00 L339.10,349.97 L340.60,350.93 L342.11,351.86 L343.62,352.79 L345.12,353.69 L346.63,354.58 L348.13,355.45 L349.64,356.29 L351.15,357.10 L352.65,357.88 L354.16,358.63 L355.67,359.37 L357.17,360.08 L358.68,360.78 L360.19,361.47 L361.69,362.14 L363.20,362.80 L364.71,363.45 L366.21,364.09 L367.72,364.73 L369.23,365.36 L370.73,366.00 L372.24,366.63 L373.75,367.27 L375.25,367.91 L376.76,368.55 L378.26,369.21 L379.77,369.87 L381.28,370.54 L382.78,371.20 L384.29,371.86 L385.80,372.53 L387.30,373.19 L388.81,373.84 L390.32,374.49 L391.82,375.14 L393.33,375.78 L394.84,376.41 L396.34,377.04 L397.85,377.67 L399.36,378.29 L400.86,378.91 L402.37,379.53 L403.88,380.15 L405.38,380.77 L406.89,381.39 L408.40,382.00 L409.90,382.62 L411.41,383.25 L412.91,383.87 L414.42,384.50 L415.93,385.13 L417.43,385.77 L418.94,386.42 L420.45,387.07 L421.95,387.73 L423.46,388.39 L424.97,389.05 L426.47,389.72 L427.98,390.38 L429.49,391.04 L430.99,391.70 L432.50,392.35 L434.01,392.99 L435.51,393.63 L437.02,394.27 L438.53,394.91 L440.03,395.55 L441.54,396.18 L443.05,396.82 L444.55,397.45 L446.06,398.09 L447.56,398.72 L449.07,399.36 L450.58,400.01 L452.08,400.65 L453.59,401.30 L455.10,401.96 L456.60,402.62 L458.11,403.28 L459.62,403.97 L461.12,404.68 L462.63,405.40 L464.14,406.11 L465.64,406.82 L467.15,407.51 L468.66,408.18 L470.16,408.80 L471.67,409.40 L473.18,409.97 L474.68,410.53 L476.19,411.07 L477.69,411.60 L479.20,412.12 L480.71,412.63 L482.21,413.13 L483.72,413.63 L485.23,414.12 L486.73,414.61 L488.24,415.09 L489.75,415.58 L491.25,416.07 L492.76,416.56 L494.27,417.06 L495.77,417.57 L497.28,418.09 L498.79,418.61 L500.29,419.14 L501.80,419.67 L503.31,420.21 L504.81,420.74 L506.32,421.27 L507.83,421.81 L509.33,422.35 L510.84,422.89 L512.34,423.42 L513.85,423.96 L515.36,424.51 L516.86,425.05 L518.37,425.60 L519.88,426.14 L521.38,426.69 L522.89,427.24 L524.40,427.78 L525.90,428.33 L527.41,428.87 L528.92,429.42 L530.42,429.96 L531.93,430.51 L533.44,431.05 L534.94,431.58 L536.45,432.12 L537.96,432.66 L539.46,433.19 L540.97,433.71 L542.48,434.24 L543.98,434.77 L545.49,435.29 L546.99,435.81 L548.50,436.33 L550.01,436.86 L551.51,437.38 L553.02,437.90 L554.53,438.42 L556.03,438.93 L557.54,439.45 L559.05,439.96 L560.55,440.47 L562.06,440.99 L563.57,441.50 L565.07,442.01 L566.58,442.53 L568.09,443.04 L569.59,443.56 L571.10,444.08 L572.61,444.60 L574.11,445.13 L575.62,445.66 L577.13,446.19 L578.63,446.73 L580.14,447.27 L581.64,447.82 L583.15,448.38 L584.66,448.94 L586.16,449.50 L587.67,450.05 L589.18,450.61 L590.68,451.15 L592.19,451.69 L593.70,452.23 L595.20,452.76 L596.71,453.29 L598.22,453.82 L599.72,454.35 L601.23,454.88 L602.74,455.40 L604.24,455.92 L605.75,456.44 L607.26,456.96 L608.76,457.47 L610.27,457.98 L611.77,458.49 L613.28,459.00 L614.79,459.49 L616.29,459.99 L617.80,460.47 L619.31,460.96 L620.81,461.44 L622.32,461.93 L623.83,462.41 L625.33,462.90 L626.84,463.38 L628.35,463.88 L629.85,464.38 L631.36,464.88 L632.87,465.39 L634.37,465.92 L635.88,466.45 L637.39,466.99 L638.89,467.53 L640.40,468.08 L641.91,468.63 L643.41,469.18 L644.92,469.73 L646.42,470.28 L647.93,470.82 L649.44,471.35 L650.94,471.87 L652.45,472.38 L653.96,472.88 L655.46,473.37 L656.97,473.85 L658.48,474.32 L659.98,474.79 L661.49,475.25 L663.00,475.72 L664.50,476.18 L666.01,476.65 L667.52,477.12 L669.02,477.60 L670.53,478.08 L672.04,478.58 L673.54,479.09 L675.05,479.61 L676.56,480.14 L678.06,480.68 L679.57,481.23 L681.07,481.78 L682.58,482.33 L684.09,482.89 L685.59,483.44 L687.10,483.99 L688.61,484.53 L690.11,485.07 L691.62,485.59 L693.13,486.11 L694.63,486.61 L696.14,487.11 L697.65,487.59 L699.15,488.07 L700.66,488.55 L702.17,489.02 L703.67,489.49 L705.18,489.96 L706.69,490.43 L708.19,490.91 L709.70,491.39 L711.21,491.88 L712.71,492.37 L714.22,492.87 L715.72,493.38 L717.23,493.90 L718.74,494.42 L720.24,494.95 L721.75,495.48 L723.26,496.01 L724.76,496.54 L726.27,497.07 L727.78,497.59 L729.28,498.11 L730.79,498.63 L732.30,499.13 L733.80,499.63 L735.31,500.12 L736.82,500.60 L738.32,501.07 L739.83,501.54 L741.34,502.00 L742.84,502.46 L744.35,502.92 L745.85,503.39 L747.36,503.85 L748.87,504.32 L750.37,504.80 L751.88,505.29 L753.39,505.79 L754.89,506.31 L756.40,506.84 L757.91,507.38 L759.41,507.94 L760.92,508.50 L762.43,509.07 L763.93,509.64 L765.44,510.21 L766.95,510.78 L768.45,511.34 L769.96,511.90 L771.47,512.45 L772.97,512.98 L774.48,513.50 L775.99,514.00 L777.49,514.50 L779.00,514.99 L780.50,515.48 L782.01,515.96 L783.52,516.43 L785.02,516.91 L786.53,517.38 L788.04,517.86 L789.54,518.33 L791.05,518.81 L792.56,519.30 L794.06,519.79 L795.57,520.28 L797.08,520.79 L798.58,521.29 L800.09,521.80 L801.60,522.31 L803.10,522.82 L804.61,523.33 L806.12,523.84 L807.62,524.35 L809.13,524.86 L810.64,525.36 L812.14,525.86 L813.65,526.36 L815.15,526.85 L816.66,527.33 L818.17,527.80 L819.67,528.27 L821.18,528.73 L822.69,529.19 L824.19,529.65 L825.70,530.11 L827.21,530.57 L828.71,531.03 L830.22,531.51 L831.73,531.99 L833.23,532.48 L834.74,532.98 L836.25,533.50 L837.75,534.03 L839.26,534.58 L840.77,535.14 L842.27,535.71 L843.78,536.28 L845.28,536.86 L846.79,537.43 L848.30,538.01 L849.80,538.58 L851.31,539.14 L852.82,539.69 L854.32,540.22 L855.83,540.74 L857.34,541.25 L858.84,541.75 L860.35,542.24 L861.86,542.72 L863.36,543.20 L864.87,543.67 L866.38,544.14 L867.88,544.61 L869.39,545.08 L870.90,545.54 L872.40,546.01 L873.91,546.47 L875.42,546.94 L876.92,547.41 L878.43,547.88 L879.93,548.35 L881.44,548.82 L882.95,549.29 L884.45,549.76 L885.96,550.22 L887.47,550.69 L888.97,551.15 L890.48,551.61 L891.99,552.08 L893.49,552.54 L895.00,553.00" stroke="#4472c4" stroke-width="3" stroke-dasharray="14 13.2 3 12.7"/>
  <g stroke="#000" stroke-width="3.3">
    <circle cx="525.6" cy="267.5" r="9.3"/>
    <circle cx="749.4" cy="289.3" r="9.3"/>
    <circle cx="763.1" cy="303.1" r="9.3"/>
    <circle cx="1054.7" cy="348.4" r="9.3"/>
    <circle cx="1370.2" cy="372.8" r="9.3"/>
  </g>
</g>

<!-- axes frame -->
<rect x="171.2" y="35.5" width="1266.6" height="515.2" fill="none" stroke="#000" stroke-width="2"/>
<!-- y ticks -->
<g stroke="#000" stroke-width="3">
  <line x1="171" y1="164.3" x2="195" y2="164.3"/>
  <line x1="171" y1="293" x2="195" y2="293"/>
  <line x1="171" y1="421.7" x2="195" y2="421.7"/>
  <line x1="487.8" y1="551" x2="487.8" y2="536"/>
  <line x1="804.5" y1="551" x2="804.5" y2="536"/>
  <line x1="1121.5" y1="551" x2="1121.5" y2="536"/>
</g>
<!-- y tick labels -->
<g font-size="41.3" fill="#404040">
  <text x="82.6" y="49.8">10<tspan font-size="27" dy="-14.2" dx="-0.5">-5</tspan></text>
  <text x="82.6" y="178.5">10<tspan font-size="27" dy="-14.2" dx="-0.5">-6</tspan></text>
  <text x="82.6" y="307.3">10<tspan font-size="27" dy="-14.2" dx="-0.5">-7</tspan></text>
  <text x="82.6" y="436">10<tspan font-size="27" dy="-14.2" dx="-0.5">-8</tspan></text>
  <text x="82.6" y="564.8">10<tspan font-size="27" dy="-14.2" dx="-0.5">-9</tspan></text>
</g>
<!-- x tick labels -->
<g font-size="41" fill="#000" text-anchor="middle" letter-spacing="0.4">
  <text x="170" y="611.4">0.6</text>
  <text x="487" y="611.4">0.8</text>
  <text x="804.5" y="611.4">1</text>
  <text x="1121.5" y="611.4">1.2</text>
  <text x="1437" y="611.4">1.4</text>
</g>
<!-- x title -->
<text x="575" y="673.5" font-size="48" letter-spacing="0.6" xml:space="preserve">1000/T  (K<tspan font-size="38" dy="-18.5">-1</tspan><tspan dy="18.5">)</tspan></text>
<!-- y title (rotated) -->
<g transform="translate(51,437.6) rotate(-90)" font-size="40">
  <text x="-0.5" y="0">V/</text>
  <path d="M46.5,-27.3 L69.3,-27.3 L57.9,-1.2 Z" fill="none" stroke="#000" stroke-width="3.2" stroke-linejoin="miter"/>
  <text x="71.5" y="0">T (cm</text>
  <text x="179" y="-19.4" font-size="33">2</text>
  <text x="209.5" y="0">s</text>
  <text x="224.5" y="-19.4" font-size="33">-1</text>
  <text x="261.5" y="0">C</text>
  <text x="290" y="-19.4" font-size="33">-1</text>
  <text x="325" y="0">)</text>
</g>

<!-- legend A -->
<g fill="none">
  <line x1="436" y1="88.7" x2="496" y2="88.7" stroke="#4472c4" stroke-width="3" stroke-dasharray="15.4 12 3.6 13 14.4 20"/>
  <line x1="769.5" y1="88.7" x2="832" y2="88.7" stroke="#ff0000" stroke-width="3" stroke-dasharray="30.7 12.3 3.5 12 3.7 20"/>
  <circle cx="1133" cy="88.7" r="10.5" stroke="#000" stroke-width="3"/>
  <line x1="438" y1="142.5" x2="499.5" y2="142.5" stroke="#ff7171" stroke-width="9.2" stroke-linecap="round"/>
  <line x1="770.6" y1="142.5" x2="832.5" y2="142.5" stroke="#76a5d0" stroke-width="9.2" stroke-linecap="round"/>
  <line x1="1102" y1="141" x2="1166" y2="141" stroke="#000" stroke-width="3.6" stroke-dasharray="14.7 12.7 14.8 12.5 9.2 10"/>
</g>
<g font-size="39" fill="#000">
  <text x="523.5" y="99.8">Sb</text>
  <text x="857" y="99.8">Ga</text>
  <text x="1168.5" y="99.8">Cline</text>
  <text x="504" y="153.2">4500 K/cm</text>
  <text x="836" y="153.2">5500 K/cm</text>
  <text x="1190" y="153.2">Au (theory)</text>
</g>

<!-- ================= PANEL B ================= -->
<text x="-3.4" y="771" font-size="88">b</text>

<g clip-path="url(#clipB)">
  <rect x="92.5" y="737" width="518" height="503.5" fill="#fbfbfb"/>
  <!-- streaks -->
  <path d="M160.6,810.2 Q200,806.3 234.3,806.4 Q200,809.6 160.6,811.2 Z" fill="#404040" stroke="#4a4a4a" stroke-width="1.5"/>
  <path d="M185.2,852.3 Q225,848.2 258.8,848.1 Q225,851.7 185.2,853.1 Z" fill="#404040" stroke="#4a4a4a" stroke-width="1.5"/>
  <!-- upper-left smudges -->
  <g filter="url(#bl3)">
    <path d="M172,948 C180,944 192,944 198,950 L200,970 C192,975 180,974 172,968 Z" fill="#e6e6e6"/>
    <path d="M92.5,840 L100,840 L100,920 L92.5,920 Z" fill="#ececec"/>
  </g>
  <g filter="url(#bl2)">
    <path d="M228,886.5 C233,887 236,891 237,900 C236,908 236,914 238,920 C241,925 242,931 239,936 C232,939 218,938 210,933 C204,929 201,924 203,920 C208,915 218,910 222,903 C224,896 225,890 228,886.5 Z" fill="#c2c2c2"/>
    <path d="M215,930 L240,932 L242,945 L220,945 Z" fill="#b8b8b8"/>
    <path d="M184.5,981 C188,972 194,962 204,950 C212,943 222,939 232,941 C240,944 246,950 246,958 C246,966 245,972 240,976 C228,979 212,981 196,982 Z" fill="#a9a9a9"/>
    <path d="M205,972 L226,954" stroke="#ececec" stroke-width="5" fill="none"/>
  </g>
  <!-- right smudges -->
  <g filter="url(#bl3)">
    <path d="M338,958 C360,955 395,956 432,958 C440,975 438,995 430,1010 C410,1012 395,1005 385,1010 C370,1005 355,995 338,985 Z" fill="#979797"/>
    <path d="M400,958 L420,958 L418,968 L402,968 Z" fill="#f4f4f4"/>
    <path d="M424,996 C435,992 448,1000 452,1020 C455,1045 455,1070 452,1085 L436,1085 C432,1060 428,1030 424,996 Z" fill="#ababab"/>
    <path d="M455,1003 C465,1000 475,1005 476,1018 L458,1020 Z" fill="#bdbdbd"/>
    <path d="M330,950 L348,950 L352,1000 L330,1000 Z" fill="#cfcfcf"/>
    <path d="M518,973 C530,970 545,972 555,978 L520,982 Z" fill="#dadada"/>
  </g>
  <!-- right side halo -->
  <path d="M340,985 C352,990 360,996 370,1000 C380,1004 392,1012 402,1028 C410,1040 416,1052 422,1064 C430,1080 440,1095 452,1110 C460,1120 466,1126 472,1132 L472,1141 L383,1141 L383,1060 C375,1030 360,1005 340,985 Z" fill="#c6c6c6" filter="url(#bl3)"/>
  <!-- ring halo and core -->
  <path d="M119.0,1160 L119.0,1120 C119.0,1030.6 184.0,974.5 272,974.5 C360.0,974.5 425.0,1030.6 425.0,1120 L425.0,1160 Z" fill="#cfcfcf" filter="url(#bl4)"/>
  <path d="M128.0,1160 L128.0,1120 C128.0,1036.9 188.5,983.5 272,983.5 C355.5,983.5 416.0,1036.9 416.0,1120 L416.0,1160 Z" fill="#9a9a9a" filter="url(#bl4)"/>
  <path d="M138.0,1160 L138.0,1120 C138.0,1043.9 193.5,993.5 272,993.5 C350.5,993.5 406.0,1043.9 406.0,1120 L406.0,1160 Z" fill="#6e6e6e" filter="url(#bl3)"/>
  <path d="M360,1002 C372,1008 382,1014 388,1030 C392,1044 396,1054 403,1066 C410,1078 418,1092 427,1105 C434,1118 440,1130 447,1141 L383,1141 L383,1060 C378,1035 370,1015 360,1002 Z" fill="#707070" filter="url(#bl3)"/>
  <!-- left foot -->
  <rect x="92.5" y="1113" width="30" height="14" fill="#a8a8a8" filter="url(#bl1)"/>
  <rect x="92.5" y="1126" width="70" height="22" fill="#6f6f6f"/>
  <circle cx="110" cy="1150" r="7" fill="none" stroke="#555" stroke-width="3" filter="url(#bl1)"/>
  <circle cx="122" cy="1150" r="2.5" fill="#eee" filter="url(#bl1)"/>
  <circle cx="95" cy="1149" r="2.5" fill="#ddd" filter="url(#bl1)"/>
  <!-- dome interior -->
  <path d="M161.0,1150 L161.0,1120 C161.0,1060.0 205.0,1016.5 272,1016.5 C339.0,1016.5 383.0,1060.0 383.0,1120 L383.0,1150 Z" fill="#898989"/>
  <!-- bottom base -->
  <path d="M92.5,1147.5 L161,1147.5 L161,1141 L611,1141 L611,1241 L92.5,1241 Z" fill="#898989"/>
  <!-- right dark band -->
  <path d="M470,1130 C500,1124 520,1118 540,1115 C570,1111 595,1112 611,1113 L611,1138 L470,1138 Z" fill="#a2a2a2" filter="url(#bl2)"/>
  <path d="M527,1120 C560,1114 590,1116 611,1118 L611,1136 L527,1136 Z" fill="#7c7c7c" filter="url(#bl2)" opacity="0.7"/>
  <rect x="430" y="1118" width="44" height="24" fill="#7c7c7c" filter="url(#bl2)"/>
  <path d="M437,1136 L611,1135 L611,1148 L437,1148 Z" fill="#2b2b2b" filter="url(#bl2)"/>
  <path d="M525,1146 C545,1156 575,1158 600,1150 L600,1146 L525,1146 Z" fill="#6a6a6a" filter="url(#bl2)"/>
  <g filter="url(#bl1)" opacity="0.75"><ellipse cx="547.4" cy="1115.1" rx="1.7" ry="1.0" fill="#5a5a5a"/><ellipse cx="457.2" cy="1146.6" rx="1.4" ry="1.3" fill="#404040"/><ellipse cx="445.0" cy="1123.6" rx="2.4" ry="1.5" fill="#404040"/><ellipse cx="560.3" cy="1144.9" rx="1.6" ry="1.5" fill="#b0b0b0"/><ellipse cx="576.0" cy="1114.3" rx="2.6" ry="1.2" fill="#c0c0c0"/><ellipse cx="466.1" cy="1156.1" rx="1.4" ry="1.3" fill="#5a5a5a"/><ellipse cx="500.3" cy="1129.1" rx="2.8" ry="1.7" fill="#5a5a5a"/><ellipse cx="530.1" cy="1156.8" rx="1.4" ry="1.2" fill="#b0b0b0"/><ellipse cx="545.6" cy="1153.0" rx="2.4" ry="1.6" fill="#5a5a5a"/><ellipse cx="447.7" cy="1124.0" rx="3.2" ry="1.8" fill="#5a5a5a"/><ellipse cx="585.6" cy="1130.7" rx="2.5" ry="1.2" fill="#b0b0b0"/><ellipse cx="502.2" cy="1123.2" rx="2.6" ry="1.6" fill="#5a5a5a"/><ellipse cx="452.0" cy="1141.9" rx="2.7" ry="1.0" fill="#404040"/><ellipse cx="503.7" cy="1157.5" rx="2.6" ry="1.1" fill="#e6e6e6"/><ellipse cx="494.5" cy="1147.8" rx="1.7" ry="0.8" fill="#d8d8d8"/><ellipse cx="493.0" cy="1125.8" rx="3.0" ry="1.5" fill="#c0c0c0"/><ellipse cx="560.6" cy="1123.4" rx="2.0" ry="1.9" fill="#b0b0b0"/><ellipse cx="517.1" cy="1125.7" rx="2.7" ry="1.4" fill="#c0c0c0"/><ellipse cx="565.5" cy="1132.9" rx="2.0" ry="1.1" fill="#404040"/><ellipse cx="607.6" cy="1136.4" rx="2.7" ry="1.8" fill="#d8d8d8"/><ellipse cx="554.3" cy="1140.2" rx="2.0" ry="2.0" fill="#b0b0b0"/><ellipse cx="528.9" cy="1156.7" rx="2.6" ry="0.9" fill="#d8d8d8"/><ellipse cx="588.6" cy="1147.0" rx="1.9" ry="1.2" fill="#e6e6e6"/><ellipse cx="561.3" cy="1145.7" rx="2.7" ry="1.4" fill="#404040"/><ellipse cx="457.9" cy="1141.5" rx="2.2" ry="1.0" fill="#e6e6e6"/><ellipse cx="600.2" cy="1154.6" rx="2.4" ry="1.4" fill="#d8d8d8"/><ellipse cx="458.8" cy="1130.0" rx="1.7" ry="1.1" fill="#5a5a5a"/><ellipse cx="535.3" cy="1117.5" rx="2.2" ry="0.9" fill="#e6e6e6"/><ellipse cx="567.8" cy="1147.7" rx="2.5" ry="1.9" fill="#c0c0c0"/><ellipse cx="467.7" cy="1137.2" rx="2.0" ry="1.1" fill="#404040"/><ellipse cx="530.6" cy="1146.1" rx="2.6" ry="1.3" fill="#c0c0c0"/><ellipse cx="552.8" cy="1130.4" rx="2.1" ry="1.1" fill="#404040"/><ellipse cx="533.1" cy="1139.9" rx="1.3" ry="1.6" fill="#d8d8d8"/><ellipse cx="478.5" cy="1153.8" rx="1.3" ry="1.1" fill="#5a5a5a"/><ellipse cx="552.4" cy="1123.4" rx="2.6" ry="1.9" fill="#c0c0c0"/><ellipse cx="536.8" cy="1124.7" rx="2.8" ry="1.0" fill="#b0b0b0"/><ellipse cx="456.3" cy="1133.0" rx="2.0" ry="1.8" fill="#b0b0b0"/><ellipse cx="449.1" cy="1142.8" rx="1.4" ry="1.3" fill="#e6e6e6"/><ellipse cx="497.0" cy="1151.9" rx="1.6" ry="1.4" fill="#c0c0c0"/><ellipse cx="463.6" cy="1122.1" rx="1.7" ry="1.9" fill="#b0b0b0"/><ellipse cx="514.4" cy="1151.9" rx="1.4" ry="1.6" fill="#404040"/><ellipse cx="530.8" cy="1114.6" rx="3.1" ry="1.8" fill="#d8d8d8"/><ellipse cx="467.9" cy="1135.4" rx="2.9" ry="1.9" fill="#c0c0c0"/><ellipse cx="505.6" cy="1154.8" rx="1.8" ry="1.6" fill="#b0b0b0"/><ellipse cx="562.7" cy="1148.5" rx="2.6" ry="1.0" fill="#e6e6e6"/><ellipse cx="489.8" cy="1156.6" rx="2.7" ry="0.9" fill="#404040"/><ellipse cx="520.1" cy="1154.5" rx="1.5" ry="2.0" fill="#404040"/><ellipse cx="453.5" cy="1122.2" rx="1.3" ry="1.8" fill="#404040"/><ellipse cx="507.8" cy="1155.4" rx="1.7" ry="1.5" fill="#404040"/><ellipse cx="544.1" cy="1132.4" rx="2.3" ry="1.2" fill="#404040"/><ellipse cx="483.8" cy="1143.5" rx="1.7" ry="1.3" fill="#5a5a5a"/><ellipse cx="552.8" cy="1127.2" rx="3.1" ry="1.9" fill="#5a5a5a"/><ellipse cx="441.6" cy="1141.3" rx="3.2" ry="0.9" fill="#404040"/><ellipse cx="475.8" cy="1125.7" rx="3.0" ry="1.9" fill="#5a5a5a"/><ellipse cx="580.1" cy="1145.0" rx="3.2" ry="1.8" fill="#404040"/><ellipse cx="528.9" cy="1143.4" rx="1.8" ry="1.6" fill="#404040"/><ellipse cx="597.7" cy="1119.9" rx="3.0" ry="1.7" fill="#d8d8d8"/><ellipse cx="466.1" cy="1126.4" rx="2.6" ry="1.0" fill="#c0c0c0"/><ellipse cx="546.6" cy="1125.6" rx="1.7" ry="1.9" fill="#b0b0b0"/><ellipse cx="448.5" cy="1141.9" rx="1.3" ry="1.2" fill="#5a5a5a"/><ellipse cx="462.0" cy="1157.1" rx="2.7" ry="1.5" fill="#c0c0c0"/><ellipse cx="452.6" cy="1152.9" rx="2.3" ry="1.8" fill="#c0c0c0"/></g>
  <path d="M440,1125 C455,1140 465,1160 470,1175" fill="none" stroke="#707070" stroke-width="3" filter="url(#bl1)"/>
  <path d="M505,1160 L530,1240" fill="none" stroke="#777" stroke-width="2" filter="url(#bl1)"/>
  <!-- grain -->
  <g clip-path="url(#clipGray)"><rect x="92.5" y="1000" width="518" height="241" fill="#000" filter="url(#grain)" opacity="0.45"/></g>
</g>
<!-- inset -->
<g clip-path="url(#clipInset)">
  <rect x="348" y="738" width="265.5" height="219" fill="#858585"/>
  <path d="M506.4,738 C522,752 535,768 541,790 L541,873.4 L594.3,873.4 L594.3,850 L613.5,845 L613.5,738 Z" fill="url(#insetRing)"/>
  <path d="M506.4,738 C522,752 535,768 541,790 L548,790 C546,770 535,752 520,738 Z" fill="#6c6c6c" filter="url(#bl2)"/>
  <path d="M565.8,737 C572,748 576.8,755 576.8,762.4 C578.5,775 579,790 580.1,800.8 C581,815 581.8,825 581.8,828.3 C584,834 590,840 598.8,841.5 L614,840.4 L614,737 Z" fill="#f4f4f4" filter="url(#bl2)"/>
  <g filter="url(#bl3)">
    <ellipse cx="584" cy="760" rx="6" ry="14" fill="#c4c4c4"/>
    <ellipse cx="596" cy="772" rx="6" ry="10" fill="#d6d6d6"/>
    <ellipse cx="588" cy="795" rx="5" ry="9" fill="#d0d0d0"/>
    <ellipse cx="604" cy="800" rx="5" ry="6" fill="#dcdcdc"/>
  </g>
  <path d="M583,812 C590,812 600,815 612,822 L612,838 C600,838 590,836 584,828 Z" fill="#ffffff" filter="url(#bl1)"/>
  <path d="M594,846 L613.5,846 L613.5,957 L598,957 C596,920 594,880 594,846 Z" fill="#5e5e5e" filter="url(#bl1)"/>
  <circle cx="604" cy="880" r="3" fill="#bbb" filter="url(#bl1)"/>
  <circle cx="608" cy="905" r="3" fill="#bbb" filter="url(#bl1)"/>
  <circle cx="602" cy="925" r="2.5" fill="#aaa" filter="url(#bl1)"/>
  <rect x="348" y="738" width="265.5" height="219" fill="#000" filter="url(#grain)" opacity="0.15"/>
  <rect x="369.6" y="922.8" width="171.2" height="5.2" fill="#000"/>
</g>
<!-- blue connectors -->
<line x1="348.3" y1="739.5" x2="311.4" y2="1083" stroke="#5068e0" stroke-width="1.8"/>
<line x1="613.5" y1="956.6" x2="470.5" y2="1210" stroke="#3346c8" stroke-width="1.8"/>
<rect x="311" y="1086.2" width="156.8" height="133.6" fill="none" stroke="#3a4fd0" stroke-width="6" opacity="0.88"/>


<!-- ================= PANEL C ================= -->
<text x="667.6" y="771.5" font-size="88">c</text>
<g clip-path="url(#clipC)" fill="none" stroke-linejoin="round">
  <path d="M805.5,902.3 C809.6,902.3 822.6,902.4 830.0,902.3 C837.4,902.2 843.3,901.6 850.0,901.6 C856.7,901.6 861.7,902.3 870.0,902.5 C878.3,902.7 891.7,902.8 900.0,902.6 C908.3,902.4 913.3,901.9 920.0,901.5 C926.7,901.1 933.3,900.8 940.0,900.5 C946.7,900.2 950.8,899.9 960.0,899.8 C969.2,899.7 987.9,899.5 995.3,899.8 C1002.7,900.1 1001.2,901.1 1004.2,901.7 C1007.2,902.3 1011.2,901.9 1013.1,903.5 C1015.0,905.1 1014.3,907.5 1015.8,911.5 C1017.3,915.5 1019.8,921.6 1022.0,927.5 C1024.2,933.4 1027.2,940.8 1029.1,947.0 C1031.0,953.2 1032.5,959.4 1033.5,964.8 C1034.5,970.2 1034.0,977.7 1035.2,979.5 C1036.4,981.3 1038.5,977.2 1040.6,975.4 C1042.6,973.6 1045.6,970.5 1047.5,968.8 C1049.4,967.1 1050.3,965.9 1052.1,965.4 C1053.8,964.9 1055.8,965.6 1058.0,965.8 C1060.2,965.9 1062.9,966.9 1065.4,966.3 C1068.0,965.7 1070.6,963.1 1073.3,962.4 C1076.0,961.6 1079.3,961.2 1081.8,961.8 C1084.3,962.4 1086.6,963.6 1088.4,966.0 C1090.2,968.4 1090.9,973.4 1092.7,976.3 C1094.5,979.2 1097.3,982.6 1099.4,983.6 C1101.5,984.6 1103.3,983.5 1105.4,982.0 C1107.5,980.5 1110.0,976.8 1112.1,974.5 C1114.2,972.2 1115.9,970.3 1118.1,968.2 C1120.3,966.1 1122.7,963.2 1125.4,961.8 C1128.1,960.4 1132.2,960.4 1134.5,959.9 C1136.8,959.4 1137.7,958.6 1139.3,958.7 C1140.9,958.8 1142.3,959.4 1144.2,960.5 C1146.1,961.6 1149.1,963.2 1150.8,965.4 C1152.5,967.6 1153.1,971.0 1154.5,973.9 C1155.9,976.8 1157.8,980.2 1159.3,983.0 C1160.8,985.8 1162.0,988.1 1163.5,990.8 C1165.0,993.5 1166.8,996.6 1168.4,999.3 C1170.0,1002.0 1171.7,1004.5 1173.2,1007.2 C1174.7,1009.9 1176.2,1012.9 1177.5,1015.7 C1178.8,1018.5 1179.9,1021.2 1181.1,1024.1 C1182.3,1027.0 1183.6,1030.1 1184.7,1033.0 C1185.8,1035.9 1187.1,1038.6 1187.7,1041.7 C1188.3,1044.8 1188.2,1047.5 1188.5,1051.4 C1188.8,1055.3 1189.1,1060.2 1189.5,1065.0 C1189.9,1069.8 1190.6,1075.0 1191.0,1080.0 C1191.4,1085.0 1191.7,1089.2 1192.0,1095.0 C1192.3,1100.8 1192.2,1109.1 1192.7,1115.1 C1193.2,1121.1 1194.1,1125.2 1195.1,1130.9 C1196.1,1136.6 1197.7,1143.0 1198.7,1149.0 C1199.7,1155.0 1200.3,1161.5 1201.2,1167.2 C1202.1,1172.9 1202.6,1181.6 1204.0,1183.0 C1205.4,1184.4 1207.8,1178.7 1209.6,1175.7 C1211.3,1172.7 1213.5,1169.5 1214.5,1164.8 C1215.5,1160.1 1215.3,1153.9 1215.7,1147.8 C1216.1,1141.7 1216.5,1134.9 1216.9,1128.4 C1217.3,1122.0 1217.3,1116.2 1218.1,1109.1 C1218.9,1102.0 1220.6,1092.0 1221.7,1086.0 C1222.8,1080.0 1223.8,1078.4 1224.6,1073.2 C1225.4,1068.0 1225.9,1059.7 1226.4,1055.1 C1226.9,1050.5 1227.1,1048.4 1227.6,1045.4 C1228.1,1042.4 1228.8,1039.9 1229.5,1036.9 C1230.2,1033.9 1231.0,1030.2 1231.9,1027.2 C1232.8,1024.2 1233.9,1021.6 1234.9,1018.7 C1235.9,1015.8 1236.8,1012.6 1237.9,1009.6 C1239.0,1006.6 1240.4,1003.3 1241.6,1000.6 C1242.8,997.9 1243.3,995.6 1245.2,993.3 C1247.1,991.0 1250.6,986.6 1253.1,986.6 C1255.6,986.6 1257.9,991.0 1260.3,993.3 C1262.7,995.6 1265.6,998.2 1267.6,1000.6 C1269.6,1003.0 1271.3,1005.4 1272.5,1007.8 C1273.7,1010.2 1274.0,1012.1 1275.0,1015.0 C1276.0,1017.9 1277.5,1021.6 1278.7,1024.9 C1280.0,1028.2 1281.0,1032.0 1282.5,1034.9 C1284.0,1037.8 1285.8,1039.7 1287.5,1042.4 C1289.2,1045.1 1290.9,1048.6 1292.5,1051.2 C1294.1,1053.8 1295.2,1055.4 1296.9,1058.0 C1298.6,1060.6 1300.6,1064.1 1302.5,1066.8 C1304.4,1069.5 1306.2,1071.8 1308.1,1074.3 C1310.0,1076.8 1311.4,1079.9 1313.7,1081.8 C1316.0,1083.7 1319.0,1084.3 1321.8,1085.6 C1324.6,1086.9 1327.7,1088.4 1330.6,1089.4 C1333.5,1090.5 1336.7,1090.5 1339.3,1091.9 C1341.9,1093.4 1344.2,1095.8 1346.2,1098.1 C1348.2,1100.4 1349.4,1103.0 1351.2,1105.6 C1353.0,1108.2 1354.8,1111.1 1356.8,1113.7 C1358.8,1116.3 1361.1,1118.8 1363.1,1121.2 C1365.1,1123.6 1366.9,1126.1 1368.7,1128.1 C1370.5,1130.1 1370.9,1131.9 1373.7,1133.1 C1376.5,1134.2 1382.5,1134.6 1385.5,1135.0 C1388.5,1135.4 1390.2,1136.0 1391.8,1135.6 C1393.4,1135.2 1393.1,1133.8 1394.9,1132.5 C1396.7,1131.2 1400.0,1129.2 1402.4,1127.5 C1404.8,1125.8 1407.0,1124.6 1409.3,1122.5 C1411.6,1120.4 1413.9,1117.2 1416.1,1115.0 C1418.3,1112.8 1420.1,1111.4 1422.4,1109.3 C1424.7,1107.2 1427.5,1104.5 1429.9,1102.5 C1432.3,1100.5 1435.7,1098.3 1436.8,1097.5" stroke="#262626" stroke-width="3" stroke-dasharray="10 8.8"/>
  <path d="M833.5,700.0 C833.7,706.4 834.6,725.2 834.8,738.3 C835.0,751.4 834.5,770.1 834.8,778.4 C835.1,786.7 836.2,779.7 836.7,788.3 C837.2,796.9 837.1,816.7 837.5,830.0 C837.9,843.3 838.8,861.0 839.3,868.0 C839.8,875.0 840.1,871.7 840.5,872.0 C840.9,872.3 841.3,877.0 841.7,870.0 C842.1,863.0 842.8,839.7 843.0,830.0 C843.2,820.3 842.6,815.6 842.8,811.8 C843.0,808.0 844.0,813.3 844.3,807.2 C844.6,801.1 844.3,783.7 844.7,775.4 C845.1,767.1 846.4,763.5 846.6,757.3 C846.9,751.1 846.1,747.8 846.2,738.3 C846.3,728.8 845.4,706.4 847.0,700.0 C848.6,693.6 854.3,693.6 856.0,700.0 C857.7,706.4 857.1,724.0 857.2,738.3 C857.3,752.6 856.6,774.8 856.8,786.0 C857.0,797.2 858.0,798.4 858.3,805.7 C858.6,813.0 858.7,821.0 858.7,830.0 C858.8,839.0 858.2,847.3 858.6,860.0 C859.0,872.7 860.7,894.4 861.3,906.2 C861.9,918.0 862.0,920.9 862.2,931.0 C862.4,941.1 862.4,958.0 862.5,966.6 C862.6,975.2 862.9,979.9 863.0,982.5 L864.0,976.4 L865.3,990.7 L866.6,991.5 L867.9,957.0 L869.2,973.0 L870.5,971.0 L871.8,983.1 L873.1,978.8 L874.4,987.3 L875.7,961.1 L877.0,994.5 L878.3,982.0 L879.6,988.8 L880.9,981.1 L882.2,977.4 L883.5,985.9 L884.8,991.0 L886.1,980.5 L887.4,979.3 L888.7,961.0 L890.0,972.3 L891.3,962.9 L892.6,981.7 L893.9,972.5 L895.2,952.0 L896.5,966.0 L897.8,970.3 L899.1,962.3 L900.4,957.1 L901.7,972.4 L903.0,983.5 L904.3,972.8 L905.6,965.8 L906.9,977.3 L908.2,983.2 L909.5,973.9 L910.8,982.5 L912.1,990.0 L913.4,978.6 L914.7,971.0 L916.0,983.1 L917.3,984.3 L918.6,994.2 L919.9,1004.0 L921.2,973.4 L922.5,972.2 L923.8,962.5 L925.1,981.6 L926.4,989.2 L927.7,977.3 L929.0,999.3 L930.3,997.4 L931.6,996.0 L932.9,994.5 L934.2,1001.4 L935.5,978.8 L936.8,997.2 L938.1,1000.7 L939.4,976.1 L940.7,995.6 L942.0,992.2 L943.3,1002.7 L944.6,991.0 L945.9,993.4 L947.2,997.1 L948.5,984.0 L949.8,997.2 L951.1,990.7 L952.4,995.4 L953.7,984.3 L955.0,999.2 L956.3,995.5 L957.6,985.8 L958.9,992.5 L960.2,999.5 L961.5,1005.1 L962.8,968.5 L964.1,988.8 L965.4,986.6 L966.7,979.6 L968.0,968.3 L969.3,990.8 L970.6,966.7 L971.9,982.7 L973.2,955.7 L974.5,962.6 L975.8,972.0 L977.1,962.2 L978.4,977.2 L979.7,992.7 L981.0,999.9 L982.3,959.3 L983.6,965.5 L984.9,979.4 L986.2,990.1 L987.5,978.3 L988.8,962.9 L990.1,971.0 L991.4,969.5 L992.7,946.7 L994.0,964.7 L995.3,986.5 L996.6,1012.7 L997.9,1000.4 L999.2,995.4 L1000.5,986.0 L1001.8,1025.4 L1003.1,1001.7 L1004.4,994.4 L1005.7,985.2 L1007.0,1001.8 L1008.3,998.9 L1009.6,1008.6 L1010.9,996.6 L1012.2,991.3 L1013.5,984.0 L1014.8,1000.8 L1016.1,1011.4 L1017.4,991.0 L1018.7,989.2 L1020.0,997.0 L1021.3,988.9 L1022.6,991.3 L1023.9,990.9 L1025.2,985.4 L1026.5,1028.4 L1027.8,1036.7 L1029.1,1055.9 L1030.4,1061.0 L1031.7,1061.7 L1033.0,1045.3 L1034.3,1047.3 L1035.6,1063.8 L1036.9,1056.4 L1038.2,1064.3 L1039.5,1065.6 L1040.8,1072.6 L1042.1,1070.2 L1043.4,1072.1 L1044.7,1063.2 L1046.0,1052.5 L1047.3,1045.4 L1048.6,1041.5 L1049.9,1030.2 L1051.2,1033.1 L1052.5,1023.6 L1053.8,1039.2 L1055.1,1033.5 L1056.4,1017.8 L1057.7,1030.3 L1059.0,1033.9 L1060.3,1041.1 L1061.6,1037.3 L1062.9,1025.8 L1064.2,1023.2 L1065.5,1046.2 L1066.8,1038.9 L1068.1,1047.1 L1069.4,1051.0 L1070.7,1026.1 L1072.0,1032.8 L1073.3,1034.3 L1074.6,1035.3 L1075.9,1037.4 L1077.2,1037.6 L1078.5,1016.3 L1079.8,1028.3 L1081.1,1038.4 L1082.4,1035.1 L1083.7,1042.5 L1085.0,1038.8 L1086.3,1048.1 L1087.6,1051.7 L1088.9,1048.6 L1090.2,1048.8 L1091.5,1047.6 L1092.8,1043.5 L1094.1,1046.1 L1095.4,1044.4 L1096.7,1052.7 L1098.0,1051.5 L1099.3,1056.9 L1100.6,1041.3 L1101.9,1057.7 L1103.2,1045.5 L1104.5,1043.4 L1105.8,1047.2 L1107.1,1044.0 L1108.4,1050.3 L1109.7,1043.1 L1111.0,1037.1 L1112.3,1037.6 L1113.6,1055.7 L1115.0,1051.4 C1115.6,1046.8 1117.8,1028.2 1118.7,1023.6 C1119.6,1019.0 1119.1,1018.2 1120.5,1023.6 C1121.9,1029.0 1125.6,1053.5 1127.1,1056.3 C1128.6,1059.1 1128.3,1038.5 1129.5,1040.5 C1130.7,1042.5 1132.7,1070.8 1134.4,1068.4 C1136.1,1066.0 1138.2,1028.8 1139.8,1026.0 C1141.4,1023.2 1142.8,1047.0 1144.1,1051.4 C1145.4,1055.8 1145.9,1051.0 1147.7,1052.6 C1149.5,1054.2 1153.1,1057.2 1155.0,1061.1 C1156.9,1064.9 1157.9,1079.7 1159.2,1075.7 C1160.5,1071.7 1161.5,1036.3 1162.8,1036.9 C1164.1,1037.5 1166.2,1071.7 1167.1,1079.3 C1168.0,1086.9 1168.0,1075.6 1168.4,1082.4 C1168.8,1089.2 1168.3,1116.6 1169.7,1120.0 C1171.1,1123.4 1174.3,1099.8 1176.9,1103.0 C1179.5,1106.2 1183.3,1129.1 1185.4,1139.4 C1187.5,1149.7 1188.4,1162.0 1189.6,1164.8 C1190.8,1167.6 1192.0,1153.5 1192.7,1156.3 C1193.4,1159.1 1193.1,1168.6 1193.9,1181.7 C1194.7,1194.8 1195.7,1227.3 1197.5,1235.0 C1199.3,1242.7 1203.2,1232.6 1204.8,1227.8 C1206.4,1223.0 1206.2,1211.5 1207.2,1206.0 C1208.2,1200.5 1209.8,1202.0 1210.8,1195.1 C1211.8,1188.2 1212.5,1171.5 1213.3,1164.8 C1214.1,1158.1 1214.1,1164.6 1215.7,1155.1 C1217.3,1145.6 1221.2,1116.4 1223.0,1107.9 C1224.8,1099.4 1225.6,1108.2 1226.6,1104.2 C1227.6,1100.2 1228.1,1087.8 1228.9,1084.1 C1229.7,1080.3 1230.3,1081.8 1231.3,1081.7 C1232.3,1081.6 1234.1,1084.8 1235.1,1083.6 C1236.1,1082.4 1235.7,1070.6 1237.3,1074.4 C1238.9,1078.2 1242.9,1103.6 1244.8,1106.6 C1246.7,1109.5 1247.0,1087.6 1248.4,1092.1 C1249.8,1096.5 1251.6,1131.5 1253.2,1133.3 C1254.8,1135.1 1256.1,1107.5 1258.1,1103.0 C1260.1,1098.5 1263.3,1101.8 1265.3,1106.6 C1267.3,1111.4 1268.6,1124.9 1270.2,1132.1 C1271.8,1139.3 1273.4,1149.0 1275.0,1149.6 C1276.6,1150.2 1277.7,1134.5 1280.0,1135.6 C1282.3,1136.7 1286.4,1156.5 1288.7,1156.2 C1291.0,1155.9 1291.8,1133.9 1293.7,1133.7 C1295.6,1133.5 1298.4,1155.6 1300.0,1155.0 C1301.6,1154.4 1301.8,1125.4 1303.1,1130.0 C1304.4,1134.6 1306.3,1176.8 1308.1,1182.4 C1309.9,1188.0 1312.3,1165.8 1313.7,1163.7 C1315.1,1161.6 1315.1,1170.8 1316.2,1170.0 C1317.3,1169.2 1319.1,1156.6 1320.6,1158.7 C1322.1,1160.8 1323.3,1183.9 1325.0,1182.4 C1326.7,1181.0 1328.8,1151.5 1330.6,1150.0 C1332.4,1148.5 1334.0,1172.2 1335.6,1173.7 C1337.2,1175.2 1338.3,1156.7 1340.0,1158.7 C1341.7,1160.7 1343.9,1181.5 1345.6,1185.5 C1347.3,1189.5 1347.8,1182.8 1350.0,1183.0 C1352.2,1183.2 1356.2,1187.7 1358.7,1186.8 C1361.2,1185.9 1363.0,1177.9 1364.9,1177.4 C1366.8,1176.9 1368.0,1181.6 1369.9,1183.7 C1371.8,1185.8 1374.1,1193.5 1376.2,1189.9 C1378.3,1186.4 1380.6,1166.6 1382.4,1162.4 C1384.2,1158.2 1385.5,1165.7 1386.8,1164.9 C1388.1,1164.1 1389.5,1155.7 1390.5,1157.4 C1391.5,1159.1 1391.4,1166.2 1393.0,1174.9 C1394.6,1183.6 1397.5,1210.1 1399.9,1209.3 C1402.3,1208.5 1405.1,1170.8 1407.4,1169.9 C1409.7,1169.0 1411.8,1201.6 1413.6,1203.7 C1415.4,1205.8 1416.3,1186.8 1418.0,1182.4 C1419.7,1178.0 1421.9,1184.3 1423.6,1177.4 C1425.3,1170.5 1426.4,1143.1 1428.0,1141.2 C1429.6,1139.3 1431.4,1158.5 1433.0,1166.2 C1434.6,1173.9 1436.7,1183.9 1437.4,1187.4" stroke="#ed7d31" stroke-width="2.8"/>
  <path d="M816.5,720.0 C816.6,723.0 816.9,732.1 817.0,738.3 C817.1,744.5 817.0,753.1 817.4,757.3 C817.8,761.5 819.1,757.8 819.3,763.3 C819.5,768.8 818.9,782.3 818.8,790.0 C818.7,797.7 817.9,809.5 818.5,809.5 C819.1,809.5 822.5,789.4 822.7,789.8 C823.0,790.2 820.0,807.3 820.0,812.0 C820.0,816.7 822.9,815.7 823.0,818.0 C823.1,820.3 820.4,823.7 820.5,826.0 C820.6,828.3 823.4,829.7 823.5,832.0 C823.6,834.3 820.9,837.7 821.0,840.0 C821.1,842.3 823.8,844.3 824.0,846.0 C824.2,847.7 821.9,847.7 822.0,850.0 C822.1,852.3 824.0,855.0 824.5,860.0 C825.0,865.0 824.9,873.2 825.2,880.0 C825.5,886.8 826.2,891.4 826.3,900.8 C826.4,910.2 825.8,923.7 825.8,936.4 C825.8,949.1 826.5,970.4 826.6,977.2 L828.0,1006.3 L829.3,999.6 L830.6,1014.1 L831.9,1026.1 L833.2,1038.2 L834.5,1066.0 L835.8,1015.8 L837.1,1011.4 L838.4,1032.7 L839.7,1062.0 L841.0,1032.3 L842.3,1008.8 L843.6,987.0 L844.9,1045.1 L846.2,1031.3 L847.5,1002.5 L848.8,1021.5 L850.1,1009.9 L851.4,1016.1 L852.7,1019.4 L854.0,1017.1 L855.3,1035.0 L856.6,1070.0 L857.9,1022.0 L859.2,1035.5 L860.5,1044.2 L861.8,985.0 L863.1,1026.9 L864.4,1019.5 L865.7,1030.0 L867.0,1016.1 L868.3,1032.4 L869.6,1061.0 L870.9,1030.1 L872.2,1018.7 L873.5,1026.0 L874.8,1016.9 L876.1,1011.2 L877.4,1031.7 L878.7,1015.6 L880.0,990.0 L881.3,1041.5 L882.6,1002.3 L883.9,1027.2 L885.2,1010.9 L886.5,1023.5 L887.8,1024.7 L889.1,996.2 L890.4,1016.2 L891.7,1018.9 L893.0,1075.0 L894.3,1009.9 L895.6,1033.4 L896.9,1012.2 L898.2,1020.6 L899.5,1015.7 L900.8,1047.8 L902.1,1041.2 L903.4,1066.9 L904.7,1046.3 L906.0,1046.1 L907.3,1046.2 L908.6,1026.0 L909.9,1030.2 L911.2,1050.5 L912.5,1028.7 L913.8,1033.3 L915.1,1030.7 L916.4,1038.6 L917.7,1025.6 L919.0,1025.7 L920.3,1030.0 L921.6,1072.4 L922.9,1012.4 L924.2,1033.4 L925.5,1004.7 L926.8,1000.8 L928.1,998.3 L929.4,1028.8 L930.7,1014.7 L932.0,1004.1 L933.3,1000.2 L934.6,1021.8 L935.9,1005.0 L937.2,999.9 L938.5,1026.0 L939.8,1004.9 L941.1,1014.4 L942.4,1080.6 L943.7,1014.8 L945.0,1019.2 L946.3,1038.8 L947.6,1015.3 L948.9,1000.9 L950.2,990.3 L951.5,1011.1 L952.8,1012.0 L954.1,979.0 L955.4,1012.1 L956.7,1011.3 L958.0,1008.6 L959.3,1012.0 L960.6,1030.0 L961.9,1018.2 L963.2,1025.0 L964.5,1052.0 L965.8,1036.8 L967.1,1006.3 L968.4,1047.7 L969.7,1034.5 L971.0,1014.3 L972.3,1052.6 L973.6,1027.0 L974.9,1016.2 L976.2,1013.9 L977.5,1008.2 L978.8,1021.5 L980.1,1037.6 L981.4,1020.4 L982.7,1028.1 L984.0,1049.4 L985.3,990.0 L986.6,1023.5 L987.9,1017.4 L989.2,1005.6 L990.5,1003.8 L991.8,1017.0 L993.1,1024.7 L994.4,1011.9 L995.7,1017.7 L997.0,1027.1 L998.3,1022.2 L999.6,1029.0 L1000.9,1024.0 L1002.2,1058.7 L1003.5,1041.5 L1004.8,1027.3 L1006.1,989.7 L1007.4,1070.2 L1008.7,1003.4 L1010.0,1008.3 L1011.3,1025.0 L1012.6,1025.4 L1013.9,1038.5 L1015.2,1019.4 L1016.5,996.3 L1017.8,1040.9 L1019.1,999.4 L1020.4,1012.4 L1021.7,1045.8 L1023.0,1035.5 L1024.3,1011.7 L1025.4,1040.0 C1025.8,1044.4 1027.1,1058.7 1027.8,1066.6 C1028.5,1074.5 1028.8,1086.6 1029.6,1087.2 C1030.4,1087.8 1031.9,1067.7 1032.7,1070.3 C1033.5,1072.9 1033.7,1101.4 1034.5,1103.0 C1035.3,1104.6 1036.6,1081.4 1037.5,1080.0 C1038.4,1078.6 1038.7,1093.1 1039.9,1094.5 C1041.1,1095.9 1043.9,1087.1 1044.8,1088.5 C1045.7,1089.9 1044.4,1110.3 1045.4,1103.0 C1046.4,1095.7 1049.4,1042.8 1050.8,1044.8 C1052.2,1046.8 1052.5,1113.3 1053.9,1115.1 C1055.3,1116.9 1058.2,1062.2 1059.3,1055.7 C1060.4,1049.2 1059.5,1075.1 1060.5,1076.3 C1061.5,1077.5 1064.0,1061.0 1065.4,1063.0 C1066.8,1065.0 1067.6,1083.2 1069.0,1088.5 C1070.4,1093.8 1072.5,1103.9 1073.9,1094.5 C1075.3,1085.1 1076.4,1034.2 1077.5,1032.0 C1078.6,1029.8 1079.5,1078.2 1080.5,1081.2 C1081.5,1084.2 1082.2,1046.1 1083.5,1049.7 C1084.8,1053.3 1086.9,1098.6 1088.4,1103.0 C1089.9,1107.4 1091.5,1075.5 1092.6,1076.3 C1093.7,1077.1 1093.9,1099.9 1095.0,1107.8 C1096.1,1115.7 1098.0,1130.0 1099.3,1123.6 C1100.6,1117.1 1101.5,1080.5 1102.9,1069.1 C1104.3,1057.7 1106.4,1052.4 1107.8,1055.1 C1109.2,1057.8 1110.2,1082.9 1111.4,1085.4 C1112.6,1087.9 1114.0,1070.7 1115.0,1070.3 C1116.0,1069.9 1116.2,1085.5 1117.4,1083.0 C1118.6,1080.5 1120.7,1052.9 1122.3,1055.1 C1123.9,1057.3 1125.5,1097.0 1127.1,1096.2 C1128.7,1095.4 1130.8,1055.7 1132.0,1050.2 C1133.2,1044.8 1133.2,1065.1 1134.4,1063.5 C1135.6,1061.9 1137.6,1041.9 1139.2,1040.5 C1140.8,1039.1 1142.9,1044.6 1144.1,1055.1 C1145.3,1065.6 1145.6,1102.0 1146.5,1103.6 C1147.4,1105.2 1148.6,1066.4 1149.5,1064.8 C1150.4,1063.2 1150.9,1092.4 1152.0,1093.8 C1153.1,1095.2 1154.7,1071.3 1156.2,1073.2 C1157.7,1075.1 1160.2,1101.4 1161.2,1105.4 C1162.2,1109.5 1161.0,1101.3 1162.2,1097.5 C1163.4,1093.7 1166.2,1077.6 1168.4,1082.4 C1170.6,1087.2 1173.7,1125.8 1175.1,1126.6 C1176.5,1127.4 1175.8,1090.6 1176.9,1087.3 C1178.0,1084.0 1180.8,1098.1 1181.8,1106.6 C1182.8,1115.1 1181.9,1120.3 1183.0,1138.1 C1184.1,1155.9 1186.4,1206.1 1188.4,1213.2 C1190.4,1220.3 1193.2,1176.9 1195.1,1180.5 C1197.0,1184.1 1198.8,1225.9 1199.9,1235.0 C1201.1,1244.1 1201.0,1248.7 1202.0,1235.0 C1203.0,1221.3 1204.6,1163.8 1206.0,1152.7 C1207.4,1141.6 1208.8,1156.7 1210.2,1168.4 C1211.6,1180.1 1212.6,1230.8 1214.5,1222.9 C1216.4,1215.0 1219.6,1136.1 1221.7,1121.2 C1223.8,1106.3 1225.3,1137.8 1227.2,1133.3 C1229.1,1128.8 1230.8,1087.4 1233.3,1094.5 C1235.8,1101.6 1240.0,1178.5 1242.3,1175.7 C1244.6,1173.0 1245.9,1098.1 1247.2,1078.0 C1248.5,1057.9 1248.8,1047.2 1250.0,1055.1 C1251.2,1063.0 1253.0,1124.8 1254.4,1125.4 C1255.8,1126.0 1256.9,1058.5 1258.5,1058.7 C1260.1,1058.9 1262.8,1122.0 1264.1,1126.6 C1265.4,1131.1 1265.2,1076.0 1266.6,1086.0 C1268.0,1096.0 1270.8,1169.8 1272.6,1186.6 C1274.4,1203.4 1276.4,1185.2 1277.5,1186.6 C1278.6,1188.0 1278.2,1203.7 1279.4,1194.9 C1280.6,1186.1 1282.6,1147.1 1284.4,1133.7 C1286.2,1120.3 1288.5,1113.9 1290.0,1114.3 C1291.5,1114.7 1292.5,1131.9 1293.7,1136.2 C1295.0,1140.5 1296.1,1135.6 1297.5,1140.0 C1298.9,1144.4 1300.7,1159.1 1301.9,1162.4 C1303.2,1165.7 1304.1,1164.3 1305.0,1159.9 C1305.9,1155.5 1306.5,1131.0 1307.5,1136.2 C1308.5,1141.4 1310.1,1180.2 1311.2,1191.2 C1312.3,1202.2 1313.2,1208.9 1314.3,1202.4 C1315.4,1195.9 1316.8,1162.8 1318.1,1152.4 C1319.3,1142.0 1320.2,1145.0 1321.8,1140.0 C1323.4,1135.0 1325.9,1121.0 1327.5,1122.5 C1329.1,1124.0 1329.9,1146.4 1331.2,1148.7 C1332.5,1151.0 1334.0,1135.4 1335.6,1136.2 C1337.2,1137.0 1338.8,1153.3 1340.6,1153.7 C1342.4,1154.1 1344.3,1137.2 1346.2,1138.7 C1348.1,1140.2 1350.2,1158.1 1351.8,1162.4 C1353.4,1166.7 1354.4,1160.1 1355.6,1164.3 C1356.8,1168.5 1357.3,1193.1 1358.7,1187.4 C1360.1,1181.7 1362.4,1138.5 1363.7,1130.0 C1365.0,1121.5 1365.5,1123.9 1366.8,1136.2 C1368.1,1148.5 1370.0,1204.5 1371.8,1203.7 C1373.6,1202.9 1376.0,1141.4 1377.4,1131.2 C1378.9,1121.0 1379.2,1129.5 1380.5,1142.4 C1381.8,1155.3 1384.0,1203.7 1385.5,1208.7 C1387.0,1213.7 1388.0,1178.5 1389.3,1172.4 C1390.5,1166.4 1391.4,1181.2 1393.0,1172.4 C1394.6,1163.6 1397.3,1126.8 1398.7,1119.3 C1400.1,1111.8 1400.1,1119.5 1401.2,1127.5 C1402.3,1135.5 1403.8,1165.7 1405.5,1167.4 C1407.2,1169.1 1409.1,1147.1 1411.1,1137.5 C1413.1,1127.9 1415.6,1109.4 1417.4,1110.0 C1419.2,1110.6 1420.2,1137.9 1421.8,1141.2 C1423.4,1144.5 1425.2,1132.7 1426.8,1130.0 C1428.3,1127.3 1429.8,1122.5 1431.1,1125.0 C1432.4,1127.5 1433.9,1140.8 1434.9,1145.0 C1436.0,1149.2 1437.0,1149.2 1437.4,1150.0" stroke="#1f3cff" stroke-width="2.8"/>
</g>
<!-- axes -->
<line x1="806" y1="738.9" x2="1437" y2="738.9" stroke="#000" stroke-width="1.5"/>
<line x1="1437" y1="738.3" x2="1437" y2="1235" stroke="#333" stroke-width="1.7"/>
<line x1="806.2" y1="737.6" x2="806.2" y2="1236.5" stroke="#000" stroke-width="3"/>
<line x1="805" y1="1235.3" x2="1438" y2="1235.3" stroke="#000" stroke-width="3"/>
<g stroke="#000" stroke-width="2.2">
  <line x1="806" y1="738.9" x2="813.8" y2="738.9"/>
  <line x1="806" y1="862.4" x2="813.8" y2="862.4"/>
  <line x1="806" y1="986.6" x2="813.8" y2="986.6"/>
  <line x1="806" y1="1110.9" x2="813.8" y2="1110.9"/>
</g>
<g stroke="#000" stroke-width="2.6">
  <line x1="963.3" y1="1235" x2="963.3" y2="1227.8"/>
  <line x1="1121.1" y1="1235" x2="1121.1" y2="1227.8"/>
  <line x1="1278.8" y1="1235" x2="1278.8" y2="1227.8"/>
  <line x1="1436.5" y1="1235" x2="1436.5" y2="1227.8"/>
</g>
<g font-size="24" fill="#000" text-anchor="end">
  <text x="785" y="746">0.4</text>
  <text x="785" y="870.4">0.3</text>
  <text x="785" y="994.6">0.2</text>
  <text x="785" y="1118.9">0.1</text>
  <text x="785" y="1242.4">0</text>
</g>
<g font-size="24" fill="#000" text-anchor="middle">
  <text x="805.5" y="1271.6">4</text>
  <text x="963.3" y="1271.6">6</text>
  <text x="1121.1" y="1271.6">8</text>
  <text x="1278.8" y="1271.6">10</text>
  <text x="1436.5" y="1271.6">12</text>
</g>
<text x="1027" y="1315.1" font-size="26.5" letter-spacing="0.3">Wavelength, µm</text>
<text transform="translate(725.2,1108) rotate(-90)" x="0" y="0" font-size="26.5" letter-spacing="0.1">Transmission, arb. units</text>
<!-- legend C -->
<line x1="1041.5" y1="778.1" x2="1078.8" y2="778.1" stroke="#ed7d31" stroke-width="2.3"/>
<line x1="1041.5" y1="824" x2="1078.8" y2="824" stroke="#1f3cff" stroke-width="2.3"/>
<line x1="1041.5" y1="869" x2="1072" y2="869" stroke="#262626" stroke-width="3" stroke-dasharray="9.5 9.2"/>
<g font-size="24.3" fill="#000">
  <text x="1087.2" y="786.7">Si with Au loaded and removed</text>
  <text x="1087.2" y="830.3">Si composite with Au removed</text>
  <text x="1087.2" y="876.2">Thorlabs uncoated Si 5mm</text>
</g>
</svg>
</body></html>
